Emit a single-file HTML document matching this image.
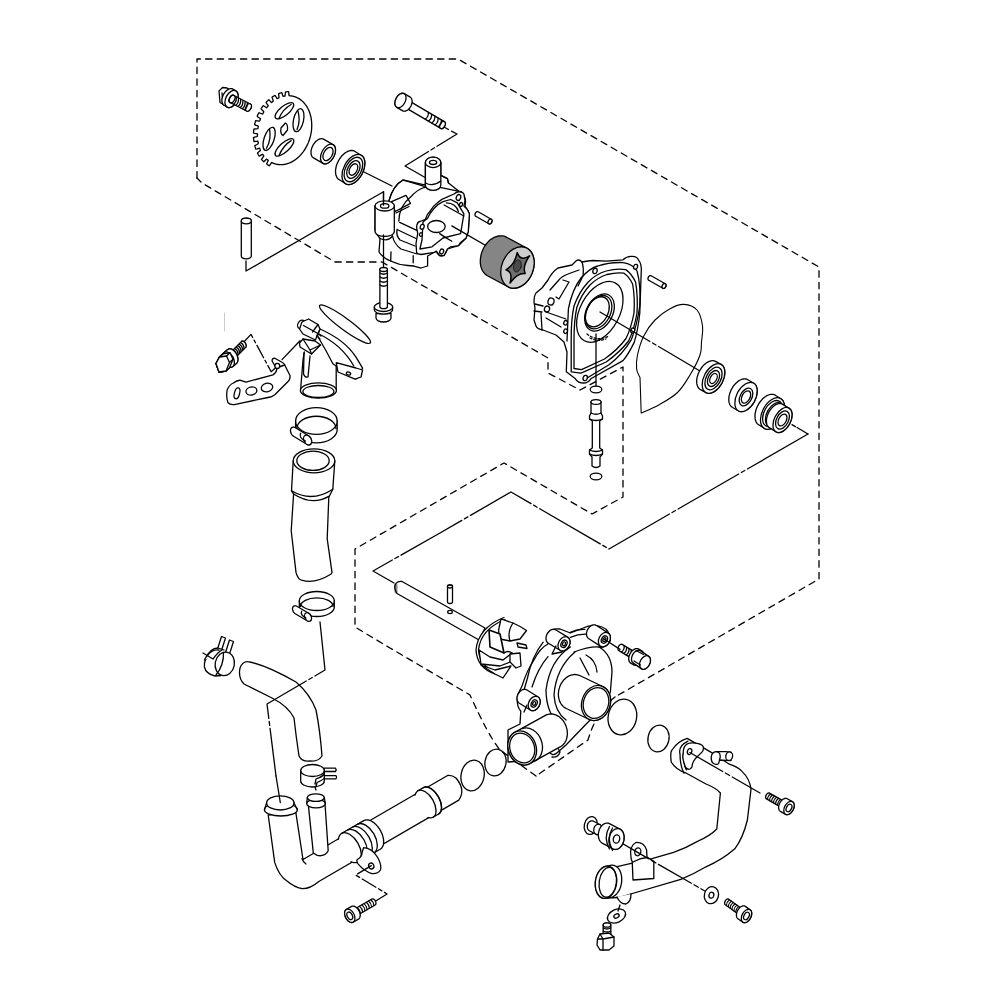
<!DOCTYPE html><html><head><meta charset="utf-8"><style>html,body{margin:0;padding:0;background:#fff;}svg{display:block;}</style></head><body><svg width="1000" height="1000" viewBox="0 0 1000 1000" stroke-linejoin="round" stroke-linecap="round">
<rect width="1000" height="1000" fill="#fff" stroke="none"/>
<path d="M197.0,178.0 L197.0,59.0 L458.0,59.0 L819.0,267.0 L819.0,579.0 L615.0,697.0" fill="none" stroke="#000" stroke-width="1.3" stroke-dasharray="6.4 5.2" />
<path d="M615,697 Q596,712 588,740 L536,776" fill="none" stroke="#000" stroke-width="1.3" stroke-dasharray="6.4 5.2" />
<path d="M536,776 L500,750 Q488,735 470,695 L390,648 L355,627 L355,549 L504,463 L592,514 L623,497 L623,367 L580,390 L548,373 L548,358 L382,262 L335,262 L202,183 L197,178" fill="none" stroke="#000" stroke-width="1.3" stroke-dasharray="6.4 5.2" />
<path d="M246.0,261.0 L246.0,271.0 L383.5,191.7 L383.5,205.2" fill="none" stroke="#000" stroke-width="1.3" />
<path d="M224.5,313 L224.5,331" stroke="#ccc" stroke-width="1" fill="none"/>
<path d="M444.0,127.0 L448.5,129.5" fill="none" stroke="#000" stroke-width="1.3" />
<path d="M451.5,131.2 L457.0,134.0 L437.0,146.3" fill="none" stroke="#000" stroke-width="1.3" />
<path d="M434.5,147.8 L431.0,150.0" fill="none" stroke="#000" stroke-width="1.3" />
<path d="M428.5,151.5 L405.0,166.0 L426.0,178.0" fill="none" stroke="#000" stroke-width="1.3" />
<path d="M362.0,171.0 L392.0,186.0" fill="none" stroke="#000" stroke-width="1.3" stroke-dasharray="70 3 4 3" />
<path d="M786.0,421.0 L796.0,427.0" fill="none" stroke="#000" stroke-width="1.3" stroke-dasharray="4 3" />
<path d="M797.0,427.5 L808.0,434.0" fill="none" stroke="#000" stroke-width="1.3" />
<path d="M808.0,434.0 L609.0,549.0 L511.0,492.0 L440.0,533.0 L373.0,571.0 L394.0,583.0" fill="none" stroke="#000" stroke-width="1.3" stroke-dasharray="70 3 4 3" />
<path d="M219.0,91.0 L222.5,87.5 L227.0,88.0 L230.0,89.8 L231.5,98.8 L228.0,106.8 L223.0,104.3 L220.0,102.5 Z" fill="#fff" stroke="#000" stroke-width="1.3" />
<path d="M222.0,92.8 L223.0,104.3" fill="none" stroke="#000" stroke-width="1.3" />
<path d="M221.9,100.4 L221.9,99.7 L222.0,98.9 L222.1,98.2 L222.3,97.5 L222.5,96.7 L222.8,96.0 L223.1,95.2 L223.5,94.5 L223.9,93.8 L224.3,93.2 L224.8,92.5 L225.2,91.9 L225.8,91.3 L226.3,90.8 L226.9,90.3 L227.4,89.9 L228.0,89.6 L228.6,89.3 L229.1,89.0 L229.7,88.8 L230.3,88.7 L230.8,88.7 L231.4,88.7 L231.9,88.7 L232.4,88.9 L232.8,89.1 L235.8,90.9 L236.2,91.1 L236.6,91.5 L237.0,91.8 L237.3,92.3 L237.5,92.8 L237.8,93.3 L237.9,93.9 L238.0,94.5 L238.1,95.2 L238.1,95.8 L238.1,96.5 L238.0,97.3 L237.9,98.0 L237.7,98.7 L237.5,99.5 L237.2,100.2 L236.9,101.0 L236.5,101.7 L236.1,102.4 L235.7,103.0 L235.2,103.7 L234.8,104.3 L234.2,104.9 L233.7,105.4 L233.1,105.9 L232.6,106.3 L232.0,106.6 L231.4,106.9 L230.9,107.2 L230.3,107.4 L229.7,107.5 L229.2,107.5 L228.6,107.5 L228.1,107.5 L227.6,107.3 L227.2,107.1 L224.2,105.3 L223.8,105.1 L223.4,104.7 L223.0,104.4 L222.7,103.9 L222.5,103.4 L222.2,102.9 L222.1,102.3 L222.0,101.7 L221.9,101.0 Z" fill="#fff" stroke="#000" stroke-width="1.3" />
<ellipse cx="231.5" cy="99.0" rx="5.7" ry="9.2" transform="rotate(28.0 231.5 99.0)" fill="#fff" stroke="#000" stroke-width="1.3" />
<path d="M229.1,100.4 L229.1,100.1 L229.2,99.8 L229.2,99.4 L229.3,99.1 L229.4,98.8 L229.5,98.5 L229.7,98.1 L229.8,97.8 L230.0,97.5 L230.2,97.2 L230.4,97.0 L230.6,96.7 L230.8,96.5 L231.0,96.2 L231.3,96.0 L231.5,95.8 L231.8,95.7 L232.0,95.5 L232.3,95.4 L232.5,95.4 L232.8,95.3 L233.0,95.3 L233.2,95.3 L233.5,95.3 L233.7,95.4 L233.9,95.5 L250.4,104.0 L250.6,104.1 L250.7,104.2 L250.9,104.4 L251.0,104.6 L251.1,104.8 L251.2,105.0 L251.3,105.3 L251.3,105.5 L251.4,105.8 L251.4,106.1 L251.4,106.4 L251.3,106.7 L251.3,107.1 L251.2,107.4 L251.1,107.7 L251.0,108.0 L250.8,108.4 L250.7,108.7 L250.5,109.0 L250.3,109.3 L250.1,109.5 L249.9,109.8 L249.7,110.0 L249.5,110.3 L249.2,110.5 L249.0,110.7 L248.7,110.8 L248.5,111.0 L248.2,111.1 L248.0,111.1 L247.7,111.2 L247.5,111.2 L247.3,111.2 L247.0,111.2 L246.8,111.1 L246.6,111.0 L230.1,102.5 L229.9,102.4 L229.8,102.3 L229.6,102.1 L229.5,101.9 L229.4,101.7 L229.3,101.5 L229.2,101.2 L229.2,101.0 L229.1,100.7 Z" fill="#fff" stroke="#000" stroke-width="1.3" />
<ellipse cx="248.5" cy="107.5" rx="2.5" ry="4.0" transform="rotate(28.0 248.5 107.5)" fill="#fff" stroke="#000" stroke-width="1.3" />
<path d="M233.6,104.2 Q236.6,101.8 236.3,97.3" fill="none" stroke="#000" stroke-width="1.3" />
<path d="M235.8,105.3 Q238.8,102.9 238.5,98.4" fill="none" stroke="#000" stroke-width="1.3" />
<path d="M238.0,106.4 Q241.0,104.0 240.7,99.5" fill="none" stroke="#000" stroke-width="1.3" />
<path d="M240.2,107.6 Q243.2,105.2 242.9,100.7" fill="none" stroke="#000" stroke-width="1.3" />
<path d="M242.4,108.7 Q245.4,106.3 245.1,101.8" fill="none" stroke="#000" stroke-width="1.3" />
<path d="M244.6,109.8 Q247.6,107.4 247.3,102.9" fill="none" stroke="#000" stroke-width="1.3" />
<ellipse cx="232.0" cy="99.0" rx="2.6" ry="4.2" transform="rotate(28.0 232.0 99.0)" fill="none" stroke="#000" stroke-width="1.3" />
<path d="M310.2,137.1 L310.1,137.4 L310.0,137.6 L310.0,137.9 L309.9,138.2 L309.8,138.5 L309.7,138.8 L309.6,139.1 L309.5,139.4 L309.4,139.7 L309.3,140.0 L309.2,140.3 L309.1,140.6 L309.0,140.8 L308.9,141.1 L308.8,141.4 L308.7,141.7 L308.6,142.0 L308.5,142.3 L308.4,142.5 L308.2,142.8 L308.1,143.1 L308.0,143.4 L307.9,143.7 L307.8,143.9 L307.6,144.2 L307.5,144.5 L307.4,144.8 L307.2,145.0 L307.1,145.3 L307.0,145.6 L306.8,145.8 L306.7,146.1 L306.6,146.4 L306.4,146.6 L306.3,146.9 L306.1,147.2 L306.0,147.4 L305.9,147.7 L305.7,148.0 L305.6,148.2 L305.4,148.5 L305.3,148.7 L305.1,149.0 L304.9,149.2 L304.8,149.5 L304.6,149.7 L304.5,150.0 L304.3,150.2 L304.1,150.5 L304.0,150.7 L303.8,150.9 L303.6,151.2 L303.5,151.4 L303.3,151.7 L303.1,151.9 L302.9,152.1 L302.8,152.4 L302.6,152.6 L302.4,152.8 L302.2,153.0 L302.1,153.3 L301.9,153.5 L301.7,153.7 L301.5,153.9 L301.3,154.1 L301.1,154.4 L300.9,154.6 L300.8,154.8 L300.6,155.0 L300.4,155.2 L300.2,155.4 L300.0,155.6 L299.8,155.8 L299.6,156.0 L299.4,156.2 L299.2,156.4 L299.0,156.6 L298.8,156.8 L298.6,157.0 L298.4,157.2 L298.2,157.4 L298.0,157.6 L297.8,157.7 L297.6,157.9 L297.4,158.1 L297.1,158.3 L296.9,158.4 L296.7,158.6 L296.5,158.8 L296.3,159.0 L296.1,159.1 L295.9,159.3 L295.6,159.4 L295.4,159.6 L295.2,159.8 L295.0,159.9 L294.8,160.1 L294.6,160.2 L294.3,160.4 L294.1,160.5 L293.9,160.6 L293.7,160.8 L293.4,160.9 L293.2,161.1 L293.0,161.2 L292.8,161.3 L292.5,161.5 L292.3,161.6 L292.1,161.7 L291.9,161.8 L291.6,161.9 L291.4,162.1 L291.2,162.2 L290.9,162.3 L290.7,162.4 L290.5,162.5 L290.3,162.6 L290.0,162.7 L289.8,162.8 L289.6,162.9 L289.3,163.0 L289.1,163.1 L288.9,163.2 L288.6,163.3 L288.4,163.4 L288.1,163.4 L287.9,163.5 L287.7,163.6 L287.4,163.7 L287.2,163.7 L287.0,163.8 L286.7,163.9 L286.5,163.9 L286.3,164.0 L286.0,164.1 L285.8,164.1 L285.6,164.2 L285.3,164.2 L285.1,164.3 L284.8,164.3 L284.6,164.4 L284.4,164.4 L284.1,164.4 L283.9,164.5 L283.7,164.5 L283.4,164.5 L283.2,164.6 L282.9,164.6 L282.7,164.6 L282.5,164.6 L282.2,164.6 L282.0,164.7 L281.8,164.7 L281.5,164.7 L281.3,164.7 L281.1,164.7 L280.8,164.7 L280.6,164.7 L280.4,164.7 L280.1,164.7 L279.9,164.7 L279.7,164.7 L279.4,164.6 L279.2,164.6 L279.0,164.6 L278.7,164.6 L278.5,164.6 L278.3,164.5 L278.0,164.5 L277.8,164.5 L277.6,164.4 L277.3,164.4 L277.1,164.4 L276.9,164.3 L276.7,164.3 L276.4,164.2 L276.2,164.2 L276.0,164.1 L275.8,164.1 L275.5,164.0 L275.3,163.9 L275.1,163.9 L274.9,163.8 L274.7,163.7 L274.4,163.7 L274.2,163.6 L274.0,163.5 L273.8,163.4 L273.6,163.4 L273.3,163.3 L273.1,163.2 L272.9,163.1 L272.7,163.0 L272.5,162.9 L272.3,162.8 L272.1,162.7 L271.9,162.6 L271.6,162.5 L271.0,163.3 L270.0,164.9 L269.3,165.8 L269.1,165.7 L268.8,165.5 L268.6,165.4 L268.4,165.3 L268.1,165.1 L267.9,165.0 L267.7,164.8 L267.5,164.7 L267.2,164.5 L267.0,164.4 L266.8,164.2 L266.7,163.8 L267.5,162.0 L268.3,160.4 L268.1,160.2 L267.9,160.1 L267.7,159.9 L267.5,159.8 L267.3,159.6 L267.2,159.5 L267.0,159.3 L266.8,159.1 L266.4,159.2 L265.1,160.5 L263.8,161.8 L263.6,161.6 L263.4,161.4 L263.2,161.2 L263.0,161.0 L262.8,160.8 L262.6,160.6 L262.4,160.4 L262.2,160.2 L262.0,160.0 L261.9,159.8 L261.7,159.5 L261.5,159.3 L262.4,158.0 L263.6,156.4 L263.8,155.8 L263.7,155.6 L263.5,155.4 L263.4,155.2 L263.2,155.0 L263.1,154.8 L262.9,154.6 L262.8,154.4 L262.6,154.2 L261.4,154.9 L259.8,155.9 L259.1,156.0 L259.0,155.8 L258.8,155.5 L258.7,155.3 L258.5,155.0 L258.4,154.8 L258.2,154.5 L258.1,154.2 L257.9,154.0 L257.8,153.7 L257.7,153.5 L257.5,153.2 L258.0,152.5 L259.6,151.2 L260.5,150.2 L260.4,150.0 L260.3,149.8 L260.2,149.5 L260.1,149.3 L260.0,149.0 L259.9,148.8 L259.8,148.5 L259.7,148.2 L259.0,148.3 L257.2,148.9 L255.8,149.2 L255.7,149.0 L255.6,148.7 L255.5,148.4 L255.4,148.1 L255.4,147.8 L255.3,147.5 L255.2,147.2 L255.1,146.9 L255.0,146.6 L254.9,146.3 L254.8,146.0 L254.8,145.6 L256.5,144.7 L258.2,143.7 L258.3,143.4 L258.3,143.1 L258.2,142.9 L258.1,142.6 L258.1,142.3 L258.0,142.0 L258.0,141.7 L257.9,141.4 L257.9,141.2 L256.1,141.3 L254.1,141.5 L253.9,141.2 L253.8,140.9 L253.8,140.6 L253.8,140.3 L253.7,139.9 L253.7,139.6 L253.7,139.3 L253.6,139.0 L253.6,138.6 L253.6,138.3 L253.6,138.0 L253.5,137.7 L254.7,137.2 L256.6,136.6 L257.5,136.2 L257.5,135.9 L257.5,135.6 L257.4,135.3 L257.4,135.0 L257.4,134.7 L257.5,134.4 L257.5,134.1 L257.5,133.8 L256.3,133.6 L254.4,133.3 L253.5,133.0 L253.5,132.7 L253.5,132.3 L253.6,132.0 L253.6,131.7 L253.6,131.3 L253.6,131.0 L253.7,130.6 L253.7,130.3 L253.7,130.0 L253.8,129.6 L253.8,129.3 L254.3,129.0 L256.3,128.9 L257.9,128.7 L257.9,128.4 L258.0,128.1 L258.0,127.8 L258.1,127.5 L258.1,127.2 L258.2,126.9 L258.3,126.6 L258.3,126.3 L258.0,125.9 L256.2,125.3 L254.6,124.6 L254.7,124.3 L254.7,124.0 L254.8,123.6 L254.9,123.3 L255.0,123.0 L255.1,122.6 L255.1,122.3 L255.2,122.0 L255.3,121.6 L255.4,121.3 L255.5,121.0 L255.6,120.7 L257.3,120.9 L259.2,121.2 L259.7,121.0 L259.8,120.7 L259.9,120.4 L260.0,120.1 L260.1,119.8 L260.2,119.6 L260.3,119.3 L260.4,119.0 L260.5,118.7 L259.2,117.8 L257.5,116.7 L257.2,116.2 L257.3,115.9 L257.5,115.6 L257.6,115.3 L257.7,115.0 L257.9,114.6 L258.0,114.3 L258.2,114.0 L258.3,113.7 L258.5,113.4 L258.6,113.1 L258.8,112.8 L259.7,113.0 L261.5,113.7 L262.6,114.0 L262.8,113.8 L262.9,113.5 L263.1,113.2 L263.2,113.0 L263.3,112.7 L263.5,112.4 L263.6,112.2 L263.8,111.9 L263.3,111.2 L261.9,109.8 L261.1,108.8 L261.2,108.5 L261.4,108.2 L261.6,107.9 L261.8,107.7 L262.0,107.4 L262.2,107.1 L262.4,106.9 L262.5,106.6 L262.7,106.3 L262.9,106.1 L263.1,105.8 L263.5,105.7 L265.1,106.8 L266.6,107.8 L266.8,107.6 L267.0,107.4 L267.1,107.1 L267.3,106.9 L267.5,106.7 L267.7,106.5 L267.9,106.3 L268.1,106.0 L268.2,105.7 L267.1,104.1 L266.1,102.4 L266.3,102.1 L266.5,101.9 L266.7,101.7 L266.9,101.4 L267.1,101.2 L267.4,101.0 L267.6,100.8 L267.8,100.6 L268.1,100.4 L268.3,100.1 L268.5,99.9 L268.8,99.7 L269.8,100.7 L271.0,102.1 L271.6,102.5 L271.8,102.3 L272.1,102.1 L272.3,102.0 L272.5,101.8 L272.7,101.6 L272.9,101.4 L273.1,101.3 L273.3,101.1 L272.9,99.8 L272.3,98.0 L272.1,97.1 L272.4,96.9 L272.6,96.8 L272.9,96.6 L273.1,96.4 L273.4,96.3 L273.6,96.1 L273.9,96.0 L274.2,95.8 L274.4,95.7 L274.7,95.5 L274.9,95.4 L275.4,95.8 L276.4,97.5 L277.1,98.7 L277.3,98.6 L277.6,98.5 L277.8,98.3 L278.0,98.2 L278.3,98.1 L278.5,98.0 L278.7,97.9 L278.9,97.8 L279.0,97.2 L278.8,95.2 L278.6,93.6 L278.9,93.5 L279.1,93.4 L279.4,93.3 L279.7,93.2 L279.9,93.1 L280.2,93.1 L280.5,93.0 L280.8,92.9 L281.0,92.8 L281.3,92.7 L281.6,92.6 L281.8,92.6 L282.4,94.3 L282.9,96.1 L283.2,96.3 L283.4,96.3 L283.6,96.2 L283.9,96.2 L284.1,96.1 L284.4,96.1 L284.6,96.0 L284.8,96.0 L285.1,96.0 L285.2,94.2 L285.4,92.2 L285.6,91.9 L285.9,91.8 L286.2,91.8 L286.5,91.8 L286.7,91.8 L287.0,91.8 L287.3,91.7 L287.5,91.7 L287.8,91.7 L288.1,91.7 L288.3,91.7 L288.6,91.7 L288.8,92.8 L288.9,94.7 L289.1,95.7 L289.3,95.7 L289.5,95.7 L289.8,95.8 L290.0,95.8 L290.2,95.8 L290.5,95.8 L290.7,95.8 L290.9,95.9 L291.2,95.9 L291.4,95.9 L291.6,96.0 L291.9,96.0 L292.1,96.0 L292.3,96.1 L292.5,96.1 L292.8,96.2 L293.0,96.2 L293.2,96.3 L293.4,96.3 L293.7,96.4 L293.9,96.5 L294.1,96.5 L294.3,96.6 L294.5,96.7 L294.8,96.7 L295.0,96.8 L295.2,96.9 L295.4,97.0 L295.6,97.0 L295.9,97.1 L296.1,97.2 L296.3,97.3 L296.5,97.4 L296.7,97.5 L296.9,97.6 L297.1,97.7 L297.3,97.8 L297.6,97.9 L297.8,98.0 L298.0,98.1 L298.2,98.2 L298.4,98.3 L298.6,98.4 L298.8,98.6 L299.0,98.7 L299.2,98.8 L299.4,98.9 L299.6,99.1 L299.8,99.2 L300.0,99.3 L300.2,99.5 L300.4,99.6 L300.6,99.7 L300.7,99.9 L300.9,100.0 L301.1,100.2 L301.3,100.3 L301.5,100.5 L301.7,100.6 L301.9,100.8 L302.0,100.9 L302.2,101.1 L302.4,101.3 L302.6,101.4 L302.8,101.6 L302.9,101.8 L303.1,101.9 L303.3,102.1 L303.5,102.3 L303.6,102.5 L303.8,102.6 L304.0,102.8 L304.1,103.0 L304.3,103.2 L304.5,103.4 L304.6,103.6 L304.8,103.8 L304.9,104.0 L305.1,104.2 L305.2,104.4 L305.4,104.6 L305.5,104.8 L305.7,105.0 L305.8,105.2 L306.0,105.4 L306.1,105.6 L306.3,105.8 L306.4,106.0 L306.6,106.2 L306.7,106.4 L306.8,106.7 L307.0,106.9 L307.1,107.1 L307.2,107.3 L307.4,107.6 L307.5,107.8 L307.6,108.0 L307.7,108.2 L307.9,108.5 L308.0,108.7 L308.1,108.9 L308.2,109.2 L308.3,109.4 L308.5,109.7 L308.6,109.9 L308.7,110.2 L308.8,110.4 L308.9,110.6 L309.0,110.9 L309.1,111.1 L309.2,111.4 L309.3,111.6 L309.4,111.9 L309.5,112.2 L309.6,112.4 L309.7,112.7 L309.8,112.9 L309.9,113.2 L309.9,113.5 L310.0,113.7 L310.1,114.0 L310.2,114.3 L310.3,114.5 L310.3,114.8 L310.4,115.1 L310.5,115.3 L310.6,115.6 L310.6,115.9 L310.7,116.2 L310.8,116.4 L310.8,116.7 L310.9,117.0 L310.9,117.3 L311.0,117.5 L311.1,117.8 L311.1,118.1 L311.2,118.4 L311.2,118.7 L311.3,119.0 L311.3,119.2 L311.3,119.5 L311.4,119.8 L311.4,120.1 L311.5,120.4 L311.5,120.7 L311.5,121.0 L311.5,121.3 L311.6,121.5 L311.6,121.8 L311.6,122.1 L311.6,122.4 L311.7,122.7 L311.7,123.0 L311.7,123.3 L311.7,123.6 L311.7,123.9 L311.7,124.2 L311.7,124.5 L311.7,124.8 L311.8,125.1 L311.8,125.4 L311.8,125.7 L311.7,126.0 L311.7,126.3 L311.7,126.6 L311.7,126.9 L311.7,127.2 L311.7,127.5 L311.7,127.8 L311.7,128.1 L311.6,128.4 L311.6,128.7 L311.6,129.0 L311.6,129.3 L311.6,129.6 L311.5,129.9 L311.5,130.2 L311.5,130.5 L311.4,130.8 L311.4,131.1 L311.3,131.4 L311.3,131.7 L311.3,132.0 L311.2,132.3 L311.2,132.6 L311.1,132.9 L311.1,133.2 L311.0,133.5 L310.9,133.8 L310.9,134.1 L310.8,134.4 L310.8,134.7 L310.7,135.0 L310.6,135.3 L310.6,135.6 L310.5,135.9 L310.4,136.2 L310.4,136.5 L310.3,136.8 Z" fill="#fff" stroke="#000" stroke-width="1.3" />
<ellipse cx="284.4" cy="110.7" rx="11.5" ry="4.6" transform="rotate(-39.6 284.4 110.7)" fill="#fff" stroke="#000" stroke-width="1.3"/>
<path d="M-9.2,2.5 Q0,-2.3 9.2,-0.5" transform="translate(284.4 110.7) rotate(-39.6)" fill="none" stroke="#000" stroke-width="1.3"/>
<ellipse cx="298.5" cy="120.2" rx="11.7" ry="5.0" transform="rotate(102.3 298.5 120.2)" fill="#fff" stroke="#000" stroke-width="1.3"/>
<path d="M-9.4,2.8 Q0,-2.5 9.4,-0.5" transform="translate(298.5 120.2) rotate(102.3)" fill="none" stroke="#000" stroke-width="1.3"/>
<ellipse cx="269.1" cy="138.9" rx="12.1" ry="5.0" transform="rotate(108.6 269.1 138.9)" fill="#fff" stroke="#000" stroke-width="1.3"/>
<path d="M-9.7,2.8 Q0,-2.5 9.7,-0.5" transform="translate(269.1 138.9) rotate(108.6)" fill="none" stroke="#000" stroke-width="1.3"/>
<ellipse cx="284.4" cy="147.4" rx="12.0" ry="4.6" transform="rotate(-42.1 284.4 147.4)" fill="#fff" stroke="#000" stroke-width="1.3"/>
<path d="M-9.6,2.5 Q0,-2.3 9.6,-0.5" transform="translate(284.4 147.4) rotate(-42.1)" fill="none" stroke="#000" stroke-width="1.3"/>
<path d="M281,128 L285.5,123 Q288,124 287.5,130 L283,135.5 Q280,134 281,128 Z" fill="#fff" stroke="#000" stroke-width="1.3" />
<path d="M311.0,152.2 L311.0,151.4 L311.1,150.6 L311.3,149.7 L311.5,148.9 L311.8,148.0 L312.1,147.2 L312.5,146.3 L312.9,145.5 L313.3,144.7 L313.8,143.9 L314.4,143.2 L314.9,142.5 L315.5,141.8 L316.1,141.2 L316.8,140.7 L317.4,140.2 L318.0,139.8 L318.7,139.4 L319.4,139.1 L320.0,138.9 L320.6,138.8 L321.3,138.7 L321.9,138.7 L322.4,138.8 L323.0,138.9 L323.5,139.1 L333.0,144.6 L333.4,144.9 L333.9,145.3 L334.3,145.7 L334.6,146.2 L334.9,146.8 L335.1,147.4 L335.3,148.0 L335.4,148.8 L335.5,149.5 L335.5,150.3 L335.5,151.1 L335.4,151.9 L335.2,152.8 L335.0,153.6 L334.7,154.5 L334.4,155.3 L334.0,156.2 L333.6,157.0 L333.2,157.8 L332.7,158.6 L332.1,159.3 L331.6,160.0 L331.0,160.7 L330.4,161.3 L329.7,161.8 L329.1,162.3 L328.5,162.7 L327.8,163.1 L327.1,163.4 L326.5,163.6 L325.9,163.7 L325.2,163.8 L324.6,163.8 L324.1,163.7 L323.5,163.6 L323.0,163.4 L313.5,157.9 L313.1,157.6 L312.6,157.2 L312.2,156.8 L311.9,156.3 L311.6,155.7 L311.4,155.1 L311.2,154.5 L311.1,153.8 L311.0,153.0 Z" fill="#fff" stroke="#000" stroke-width="1.3" />
<ellipse cx="328.0" cy="154.0" rx="6.4" ry="10.6" transform="rotate(28.0 328.0 154.0)" fill="#fff" stroke="#000" stroke-width="1.3" />
<ellipse cx="328.0" cy="154.0" rx="4.3" ry="7.2" transform="rotate(28.0 328.0 154.0)" fill="#fff" stroke="#000" stroke-width="1.3" />
<path d="M335.5,171.2 L335.6,170.0 L335.8,168.7 L336.0,167.4 L336.3,166.1 L336.7,164.8 L337.2,163.5 L337.8,162.2 L338.4,160.9 L339.1,159.7 L339.9,158.5 L340.7,157.4 L341.5,156.3 L342.4,155.3 L343.4,154.4 L344.3,153.6 L345.3,152.8 L346.3,152.2 L347.3,151.6 L348.3,151.2 L349.3,150.8 L350.3,150.6 L351.2,150.5 L352.1,150.5 L353.0,150.6 L353.8,150.9 L354.6,151.2 L361.0,155.2 L361.7,155.6 L362.4,156.2 L363.0,156.9 L363.5,157.6 L363.9,158.5 L364.3,159.4 L364.6,160.4 L364.7,161.5 L364.8,162.6 L364.9,163.8 L364.8,165.0 L364.6,166.3 L364.4,167.6 L364.1,168.9 L363.7,170.2 L363.2,171.5 L362.6,172.8 L362.0,174.1 L361.3,175.3 L360.5,176.5 L359.7,177.6 L358.9,178.7 L358.0,179.7 L357.0,180.6 L356.1,181.4 L355.1,182.2 L354.1,182.8 L353.1,183.4 L352.1,183.8 L351.1,184.2 L350.1,184.4 L349.2,184.5 L348.3,184.5 L347.4,184.4 L346.6,184.1 L345.8,183.8 L339.4,179.8 L338.7,179.4 L338.0,178.8 L337.4,178.1 L336.9,177.4 L336.5,176.5 L336.1,175.6 L335.8,174.6 L335.7,173.5 L335.6,172.4 Z" fill="#fff" stroke="#000" stroke-width="1.3" />
<ellipse cx="353.4" cy="169.5" rx="9.7" ry="16.2" transform="rotate(28.0 353.4 169.5)" fill="#fff" stroke="#000" stroke-width="1.3" />
<ellipse cx="353.4" cy="169.5" rx="7.9" ry="13.2" transform="rotate(28.0 353.4 169.5)" fill="none" stroke="#000" stroke-width="1.3" />
<ellipse cx="353.4" cy="169.5" rx="5.7" ry="9.5" transform="rotate(28.0 353.4 169.5)" fill="none" stroke="#000" stroke-width="1.3" />
<ellipse cx="353.4" cy="169.5" rx="3.7" ry="6.2" transform="rotate(28.0 353.4 169.5)" fill="#fff" stroke="#000" stroke-width="1.3" />
<path d="M403.2,104.8 L403.2,104.5 L403.2,104.2 L403.3,103.9 L403.4,103.6 L403.5,103.3 L403.6,103.0 L403.7,102.7 L403.9,102.4 L404.0,102.1 L404.2,101.8 L404.4,101.5 L404.6,101.3 L404.8,101.0 L405.1,100.8 L405.3,100.6 L405.5,100.4 L405.8,100.3 L406.0,100.1 L406.3,100.0 L406.5,100.0 L406.8,99.9 L407.0,99.9 L407.2,99.9 L407.4,99.9 L407.6,100.0 L407.8,100.1 L444.3,121.6 L444.5,121.7 L444.7,121.8 L444.8,122.0 L445.0,122.2 L445.1,122.4 L445.2,122.6 L445.2,122.8 L445.3,123.1 L445.3,123.4 L445.3,123.7 L445.3,124.0 L445.3,124.3 L445.2,124.6 L445.1,124.9 L445.0,125.2 L444.9,125.5 L444.8,125.8 L444.6,126.1 L444.5,126.4 L444.3,126.7 L444.1,127.0 L443.9,127.2 L443.7,127.5 L443.4,127.7 L443.2,127.9 L443.0,128.1 L442.7,128.2 L442.5,128.4 L442.2,128.5 L442.0,128.6 L441.7,128.6 L441.5,128.6 L441.3,128.6 L441.1,128.6 L440.9,128.5 L440.7,128.4 L404.2,106.9 L404.0,106.8 L403.8,106.7 L403.7,106.5 L403.5,106.3 L403.4,106.1 L403.3,105.9 L403.3,105.7 L403.2,105.4 L403.2,105.1 Z" fill="#fff" stroke="#000" stroke-width="1.3" />
<ellipse cx="442.5" cy="125.0" rx="2.4" ry="3.9" transform="rotate(28.0 442.5 125.0)" fill="#fff" stroke="#000" stroke-width="1.3" />
<path d="M394.9,103.2 L394.9,102.6 L395.0,102.0 L395.1,101.4 L395.2,100.7 L395.4,100.1 L395.7,99.5 L395.9,98.8 L396.2,98.2 L396.6,97.6 L396.9,97.1 L397.3,96.5 L397.7,96.0 L398.2,95.5 L398.6,95.1 L399.1,94.7 L399.6,94.3 L400.1,94.0 L400.6,93.8 L401.1,93.6 L401.5,93.4 L402.0,93.3 L402.5,93.3 L402.9,93.3 L403.4,93.3 L403.8,93.4 L404.2,93.6 L410.2,97.1 L410.5,97.3 L410.8,97.6 L411.1,97.9 L411.4,98.3 L411.6,98.7 L411.8,99.2 L411.9,99.7 L412.1,100.2 L412.1,100.7 L412.1,101.3 L412.1,101.9 L412.0,102.5 L411.9,103.1 L411.8,103.8 L411.6,104.4 L411.3,105.0 L411.1,105.7 L410.8,106.3 L410.4,106.9 L410.1,107.4 L409.7,108.0 L409.3,108.5 L408.8,109.0 L408.4,109.4 L407.9,109.8 L407.4,110.2 L406.9,110.5 L406.4,110.7 L405.9,110.9 L405.5,111.1 L405.0,111.2 L404.5,111.2 L404.1,111.2 L403.6,111.2 L403.2,111.1 L402.8,110.9 L396.8,107.4 L396.5,107.2 L396.2,106.9 L395.9,106.6 L395.6,106.2 L395.4,105.8 L395.2,105.3 L395.1,104.8 L394.9,104.3 L394.9,103.8 Z" fill="#fff" stroke="#000" stroke-width="1.3" />
<ellipse cx="400.5" cy="100.5" rx="4.8" ry="7.8" transform="rotate(28.0 400.5 100.5)" fill="#fff" stroke="#000" stroke-width="1.3" />
<path d="M425.4,119.0 Q428.6,116.8 428.4,112.4" fill="none" stroke="#000" stroke-width="1.3" />
<path d="M428.6,120.9 Q431.9,118.7 431.6,114.3" fill="none" stroke="#000" stroke-width="1.3" />
<path d="M431.9,122.8 Q435.1,120.6 434.9,116.2" fill="none" stroke="#000" stroke-width="1.3" />
<path d="M435.1,124.7 Q438.4,122.5 438.1,118.1" fill="none" stroke="#000" stroke-width="1.3" />
<path d="M438.4,126.6 Q441.6,124.4 441.4,120.0" fill="none" stroke="#000" stroke-width="1.3" />
<path d="M241.3,221.0 L241.3,256.0 A5.0,2.8 0 0 0 251.3,256.0 L251.3,221.0 A5.0,2.8 0 0 0 241.3,221.0 Z" fill="#fff" stroke="#000" stroke-width="1.3" />
<ellipse cx="246.3" cy="221.0" rx="5.0" ry="2.8" transform="rotate(0.0 246.3 221.0)" fill="#fff" stroke="#000" stroke-width="1.3" />
<path d="M375,206 L375,230.4 Q377,235 380,238.5 L379,252 Q383,258 390.7,261 Q399,265 407.8,265.5 L414,266 L421,268 L427.6,266 L427.6,256 L434.2,252.3 L436.4,251.2 Q438,256 441.5,256 Q445,256 447.4,249 L458.4,245.7 L466.1,238 L468.3,231.4 L469.4,213.8 Q468,210 465,206.1 Q466,200 465,198 Q463,192 459.5,191.8 L448.5,183 L447.4,178.6 L440.8,175.3 L440.8,162.4 L425.4,162.4 L425.4,185.2 L403,180 Q393,186 389,200.7 Q384,205 375,206 Z" fill="#fff" stroke="#000" stroke-width="1.3" />
<path d="M389,200.7 Q393,185 403,180 L424.3,186.3" fill="none" stroke="#000" stroke-width="1.3" />
<path d="M435.3,186.3 L461.7,191.8" fill="none" stroke="#000" stroke-width="1.3" />
<path d="M440.8,175.3 L447.4,178.6 L448.5,183" fill="none" stroke="#000" stroke-width="1.3" />
<path d="M391.6,201.6 L406,195.3 L410.5,203.4 L395.2,211.5 Z" fill="#fff" stroke="#000" stroke-width="1.3" />
<path d="M396,213 L409,206.5" fill="none" stroke="#000" stroke-width="1.3" />
<path d="M398.8,221 Q399,206 411.4,196.2 Q417,190 424,187.5 L433,185.4" fill="none" stroke="#000" stroke-width="1.3" />
<path d="M399.7,222.3 L416.8,230.4 M397,229.5 L416,238.5 M397,229.5 Q396,236 400,240 L415,246" fill="none" stroke="#000" stroke-width="1.3" />
<path d="M392.5,236 Q394,244 401,249 L417,254" fill="none" stroke="#000" stroke-width="1.3" />
<path d="M380,238.5 Q388,242 392.5,236" fill="none" stroke="#000" stroke-width="1.3" />
<path d="M390.7,261 L391,252 M413.2,262.8 L413.2,255.6" fill="none" stroke="#000" stroke-width="1.3" />
<path d="M454,194 Q457,191.5 459.5,191.8 Q463,192 463.9,194 L465,200.6 L463.9,206.1 L467.2,209.4 L469.4,213.8 L468.3,231.4 L466.1,238 L460.6,242.4 L458.4,245.7 L450.7,246.8 L447.4,249 L444.1,255.6 L439.7,255.6 L436.4,251.2 L434.2,252.3 L421,254.5 Q417,254 416.6,252.3 L416,243.5 L417.7,233.6 L416.6,227 Q417,222 419.9,221.5 L425.4,219.3 Q427,214 429.8,211.6 Q433,206 437.5,202.8 Q441,199 446.3,197.3 Z" fill="#fff" stroke="#000" stroke-width="1.3" />
<path d="M450.7,199.5 L443,201.7 Q438,204 434.2,208.3 Q430,213 427.6,218.2 L423,222 L422,240 L419.9,249 L432,246.8 L443,238 L460.6,233.6 L463.9,213.8 L457.3,202.8 Z" fill="none" stroke="#000" stroke-width="1.3" />
<ellipse cx="436.4" cy="226.5" rx="8.8" ry="6.0" transform="rotate(0.0 436.4 226.5)" fill="#fff" stroke="#000" stroke-width="1.3" />
<path d="M444.1,205 L463.9,216" fill="none" stroke="#000" stroke-width="1.3" />
<path d="M446.3,202.8 Q456,203 458.4,211.6" fill="none" stroke="#000" stroke-width="1.3" />
<path d="M439.7,233.6 Q446,238 451.8,241.3" fill="none" stroke="#000" stroke-width="1.3" />
<ellipse cx="458.5" cy="197.5" rx="2.2" ry="3.0" transform="rotate(20.0 458.5 197.5)" fill="#fff" stroke="#000" stroke-width="1.3" />
<ellipse cx="461.0" cy="204.5" rx="1.5" ry="2.0" transform="rotate(20.0 461.0 204.5)" fill="#fff" stroke="#000" stroke-width="1.3" />
<ellipse cx="422.2" cy="226.8" rx="1.9" ry="2.5" transform="rotate(20.0 422.2 226.8)" fill="#fff" stroke="#000" stroke-width="1.3" />
<ellipse cx="420.9" cy="234.5" rx="1.4" ry="1.8" transform="rotate(20.0 420.9 234.5)" fill="#fff" stroke="#000" stroke-width="1.3" />
<ellipse cx="441.7" cy="251.5" rx="1.9" ry="2.5" transform="rotate(20.0 441.7 251.5)" fill="#fff" stroke="#000" stroke-width="1.3" />
<path d="M425.4,162.4 L425.4,185.2 A7.7,5.2 0 0 0 440.8,185.2 L440.8,162.4 A7.7,5.2 0 0 0 425.4,162.4 Z" fill="#fff" stroke="#000" stroke-width="1.3" />
<ellipse cx="433.1" cy="162.4" rx="7.7" ry="5.2" transform="rotate(0.0 433.1 162.4)" fill="#fff" stroke="#000" stroke-width="1.3" />
<ellipse cx="433.1" cy="162.4" rx="3.6" ry="2.1" transform="rotate(0.0 433.1 162.4)" fill="#fff" stroke="#000" stroke-width="1.3" />
<path d="M425.4,183 Q433,187 440.8,181" fill="none" stroke="#000" stroke-width="1.3" />
<path d="M375.1,205.9 L375.1,232.0 A9.7,5.1 0 0 0 394.3,232.0 L394.3,205.9 A9.7,5.1 0 0 0 375.1,205.9 Z" fill="#fff" stroke="#000" stroke-width="1.3" />
<ellipse cx="384.7" cy="205.9" rx="9.7" ry="5.1" transform="rotate(0.0 384.7 205.9)" fill="#fff" stroke="#000" stroke-width="1.3" />
<ellipse cx="384.7" cy="205.9" rx="4.2" ry="2.2" transform="rotate(0.0 384.7 205.9)" fill="#fff" stroke="#000" stroke-width="1.3" />
<path d="M383.5,235.0 L383.5,267.0" fill="none" stroke="#000" stroke-width="1.3" />
<path d="M383.5,191.7 L383.5,205.2" fill="none" stroke="#000" stroke-width="1.3" />
<path d="M451.8,225.9 L497.0,252.0" fill="none" stroke="#000" stroke-width="1.3" />
<path d="M475.0,214.6 L475.0,214.4 L475.0,214.2 L475.1,214.0 L475.1,213.8 L475.2,213.6 L475.3,213.3 L475.4,213.1 L475.5,212.9 L475.6,212.8 L475.8,212.6 L475.9,212.4 L476.1,212.3 L476.2,212.1 L476.4,212.0 L476.6,211.9 L476.7,211.8 L476.9,211.7 L477.1,211.6 L477.3,211.6 L477.4,211.6 L477.6,211.6 L477.8,211.6 L477.9,211.6 L478.1,211.6 L478.2,211.7 L491.2,219.2 L491.4,219.3 L491.5,219.4 L491.6,219.5 L491.7,219.6 L491.8,219.8 L491.9,219.9 L491.9,220.1 L492.0,220.3 L492.0,220.5 L492.0,220.7 L492.0,220.9 L492.0,221.1 L492.0,221.3 L491.9,221.5 L491.9,221.7 L491.8,221.9 L491.7,222.2 L491.6,222.4 L491.5,222.6 L491.4,222.7 L491.2,222.9 L491.1,223.1 L490.9,223.2 L490.8,223.4 L490.6,223.5 L490.4,223.6 L490.3,223.7 L490.1,223.8 L489.9,223.9 L489.7,223.9 L489.6,223.9 L489.4,223.9 L489.2,223.9 L489.1,223.9 L488.9,223.9 L488.8,223.8 L475.8,216.3 L475.6,216.2 L475.5,216.1 L475.4,216.0 L475.3,215.9 L475.2,215.7 L475.1,215.6 L475.1,215.4 L475.0,215.2 L475.0,215.0 L475.0,214.8 Z" fill="#fff" stroke="#000" stroke-width="1.3" />
<ellipse cx="490.0" cy="221.5" rx="1.8" ry="2.6" transform="rotate(28.0 490.0 221.5)" fill="#fff" stroke="#000" stroke-width="1.3" />
<path d="M648.0,278.6 L648.0,278.4 L648.0,278.2 L648.1,278.0 L648.1,277.8 L648.2,277.6 L648.3,277.3 L648.4,277.1 L648.5,276.9 L648.6,276.8 L648.8,276.6 L648.9,276.4 L649.1,276.3 L649.2,276.1 L649.4,276.0 L649.6,275.9 L649.7,275.8 L649.9,275.7 L650.1,275.6 L650.3,275.6 L650.4,275.6 L650.6,275.6 L650.8,275.6 L650.9,275.6 L651.1,275.6 L651.2,275.7 L665.2,283.7 L665.4,283.8 L665.5,283.9 L665.6,284.0 L665.7,284.1 L665.8,284.3 L665.9,284.4 L665.9,284.6 L666.0,284.8 L666.0,285.0 L666.0,285.2 L666.0,285.4 L666.0,285.6 L666.0,285.8 L665.9,286.0 L665.9,286.2 L665.8,286.4 L665.7,286.7 L665.6,286.9 L665.5,287.1 L665.4,287.2 L665.2,287.4 L665.1,287.6 L664.9,287.7 L664.8,287.9 L664.6,288.0 L664.4,288.1 L664.3,288.2 L664.1,288.3 L663.9,288.4 L663.7,288.4 L663.6,288.4 L663.4,288.4 L663.2,288.4 L663.1,288.4 L662.9,288.4 L662.8,288.3 L648.8,280.3 L648.6,280.2 L648.5,280.1 L648.4,280.0 L648.3,279.9 L648.2,279.7 L648.1,279.6 L648.1,279.4 L648.0,279.2 L648.0,279.0 L648.0,278.8 Z" fill="#fff" stroke="#000" stroke-width="1.3" />
<ellipse cx="664.0" cy="286.0" rx="1.8" ry="2.6" transform="rotate(28.0 664.0 286.0)" fill="#fff" stroke="#000" stroke-width="1.3" />
<path d="M480.3,261.1 L480.4,259.3 L480.6,257.5 L480.9,255.7 L481.3,253.9 L481.9,252.1 L482.6,250.4 L483.3,248.7 L484.2,247.0 L485.2,245.5 L486.3,244.0 L487.5,242.6 L488.7,241.3 L490.0,240.1 L491.3,239.1 L492.7,238.2 L494.1,237.4 L495.6,236.8 L497.1,236.3 L498.5,236.0 L500.0,235.8 L501.4,235.8 L502.8,235.9 L504.1,236.2 L505.4,236.7 L506.6,237.3 L527.1,248.3 L528.3,249.1 L529.4,250.0 L530.3,251.0 L531.2,252.2 L532.0,253.4 L532.7,254.8 L533.2,256.3 L533.7,257.8 L534.0,259.5 L534.2,261.2 L534.2,262.9 L534.1,264.7 L533.9,266.5 L533.6,268.3 L533.2,270.1 L532.6,271.9 L531.9,273.6 L531.2,275.3 L530.3,277.0 L529.3,278.5 L528.2,280.0 L527.0,281.4 L525.8,282.7 L524.5,283.9 L523.2,284.9 L521.8,285.8 L520.4,286.6 L518.9,287.2 L517.4,287.7 L516.0,288.0 L514.5,288.2 L513.1,288.2 L511.7,288.1 L510.4,287.8 L509.1,287.3 L507.9,286.7 L487.4,275.7 L486.2,274.9 L485.1,274.0 L484.2,273.0 L483.3,271.8 L482.5,270.6 L481.8,269.2 L481.3,267.7 L480.8,266.2 L480.5,264.5 L480.3,262.8 Z" fill="#858585" stroke="#000" stroke-width="1.3" />
<ellipse cx="517.5" cy="267.5" rx="15.7" ry="21.5" transform="rotate(23.0 517.5 267.5)" fill="#cdcdcd" stroke="#000" stroke-width="1.3" />
<path d="M517.2,252.6 Q520.2,261.8 529.6,255.8 Q522.0,266.5 525.2,273.5 Q517.5,272.6 510,283 Q513.2,271.8 506,269.8 Q514.8,264.9 517.2,252.6 Z" fill="#6f6f6f" stroke="#000" stroke-width="1.5" />
<ellipse cx="517.4" cy="266.0" rx="3.8" ry="6.2" transform="rotate(15.0 517.4 266.0)" fill="#4a4a4a" stroke="#000" stroke-width="0.6" />
<path d="M576,261 Q579,258.5 582,262 L588,261 L593,260.5 L606.2,261.2 L623,259.8 Q627,256 631.4,256.3 Q637,256 638.4,259.8 Q642,264 641.2,272.4 L639.8,313 Q638,330 634.2,342.4 Q628,355 623,360.6 L590.8,378.8 Q588,383 583.8,383 Q578,383 575.4,378.8 L566.3,371.8 L567,352 L564,342 L556,335 L543,330 Q537,329 536,326 L534,320 L535,308 L534,302 Q534,296 536,293 L542,288 L548,280 Q552,272 558,268 L572,265 Z" fill="#fff" stroke="#000" stroke-width="1.3" />
<path d="M579,270 L568,274 Q562,276 558,281 L550,290" fill="none" stroke="#000" stroke-width="1.3" />
<path d="M563,280 L569,282 L559,299 L556,297" fill="none" stroke="#000" stroke-width="1.3" />
<ellipse cx="551.0" cy="301.5" rx="3.0" ry="3.6" transform="rotate(15.0 551.0 301.5)" fill="#fff" stroke="#000" stroke-width="1.3" />
<ellipse cx="547.0" cy="309.0" rx="2.6" ry="3.0" transform="rotate(15.0 547.0 309.0)" fill="#fff" stroke="#000" stroke-width="1.3" />
<path d="M535,304 L543,306 M534,311 L542,312 M546,312 L566,319 M546,318 L561,327 M541,313 L542,330" fill="none" stroke="#000" stroke-width="1.3" />
<path d="M582,262 Q584,268 583,276 L578,286" fill="none" stroke="#000" stroke-width="1.3" />
<path d="M567,341 L568.4,308.8 Q572,290 581,278 Q590,268 597.8,266 Q610,262 623,262.6 Q633,264 637,271 Q641,285 639.8,306 Q637,325 631.4,339.6 Q622,355 609,364.8 L583.8,380" fill="none" stroke="#000" stroke-width="1.3" />
<path d="M571.2,371.8 L571.2,339.6 Q571,320 574,306 Q579,292 588,282.2 Q596,274 606.2,271 Q617,268 625.8,269.6 Q632,274 635.6,282.2 Q638,296 637,313 Q634,330 628.6,341 Q620,352 606.2,362 L581,373.2 Z" fill="none" stroke="#000" stroke-width="1.3" />
<path d="M574,368.5 L574,339.6 Q574,321 576.8,307.5 Q581.5,294 590,285 Q597.5,277.5 607,274.5 Q617,272 624,273.2 Q629.5,277 632.6,284 Q635,297 634,313 Q631,328.5 626,338.5 Q618,349.5 604.5,359 L581.5,369.6 Z" fill="none" stroke="#000" stroke-width="1.3" />
<ellipse cx="599.8" cy="311.8" rx="19.7" ry="32.8" transform="rotate(28.0 599.8 311.8)" fill="#fff" stroke="#000" stroke-width="1.3" />
<ellipse cx="599.5" cy="312.5" rx="13.1" ry="19.8" transform="rotate(28.0 599.5 312.5)" fill="#fff" stroke="#000" stroke-width="1.3" />
<ellipse cx="598.6" cy="312.2" rx="11.7" ry="17.8" transform="rotate(28.0 598.6 312.2)" fill="none" stroke="#000" stroke-width="1.3" />
<ellipse cx="597.3" cy="311.8" rx="10.6" ry="16.0" transform="rotate(28.0 597.3 311.8)" fill="none" stroke="#000" stroke-width="1.3" />
<path d="M587,334 Q597,342 609,336" fill="none" stroke="#000" stroke-width="1.3" stroke-dasharray="2 2" />
<path d="M590,338 Q598,342 606,339" fill="none" stroke="#000" stroke-width="1.3" stroke-dasharray="2 2" />
<ellipse cx="595.0" cy="271.0" rx="2.1" ry="2.7" transform="rotate(20.0 595.0 271.0)" fill="#fff" stroke="#000" stroke-width="1.3" />
<ellipse cx="635.6" cy="266.8" rx="1.9" ry="2.5" transform="rotate(20.0 635.6 266.8)" fill="#fff" stroke="#000" stroke-width="1.3" />
<ellipse cx="632.8" cy="330.5" rx="1.9" ry="2.5" transform="rotate(20.0 632.8 330.5)" fill="#fff" stroke="#000" stroke-width="1.3" />
<ellipse cx="585.2" cy="378.0" rx="2.1" ry="2.7" transform="rotate(20.0 585.2 378.0)" fill="#fff" stroke="#000" stroke-width="1.3" />
<ellipse cx="565.6" cy="322.8" rx="1.8" ry="2.3" transform="rotate(20.0 565.6 322.8)" fill="#fff" stroke="#000" stroke-width="1.3" />
<ellipse cx="565.6" cy="331.2" rx="1.8" ry="2.3" transform="rotate(20.0 565.6 331.2)" fill="#fff" stroke="#000" stroke-width="1.3" />
<path d="M596.0,334.0 L596.0,386.0" fill="none" stroke="#000" stroke-width="1.3" />
<path d="M640.0,377.5 C639.4,376.1 637.0,372.8 636.6,369.0 C636.2,365.2 636.3,360.5 637.5,355.0 C638.7,349.5 640.8,341.8 643.8,336.0 C646.7,330.2 650.6,324.5 655.0,320.0 C659.4,315.5 665.2,311.4 670.0,308.8 C674.8,306.1 679.2,304.2 683.8,304.4 C688.2,304.6 693.9,306.4 697.0,310.0 C700.1,313.6 701.8,320.7 702.5,326.0 C703.2,331.3 701.9,337.2 701.5,342.0 C701.1,346.8 701.9,349.5 700.0,355.0 C698.1,360.5 693.8,368.8 690.0,375.0 C686.2,381.2 682.7,387.5 677.5,392.5 C672.3,397.5 664.8,401.6 658.8,405.0 C652.7,408.4 644.2,411.7 641.2,413.0 Z" fill="none" stroke="#000" stroke-width="1.1" />
<path d="M600.0,312.0 L700.0,371.0" fill="none" stroke="#000" stroke-width="1.3" stroke-dasharray="58 3 4 3" />
<path d="M696.7,381.1 L696.7,379.9 L696.9,378.7 L697.1,377.4 L697.5,376.1 L697.9,374.8 L698.3,373.5 L698.9,372.2 L699.5,371.0 L700.2,369.8 L701.0,368.6 L701.8,367.5 L702.6,366.4 L703.5,365.4 L704.4,364.5 L705.4,363.7 L706.3,363.0 L707.3,362.3 L708.3,361.8 L709.3,361.3 L710.3,361.0 L711.2,360.8 L712.2,360.7 L713.1,360.7 L713.9,360.8 L714.7,361.0 L715.5,361.4 L721.0,364.4 L721.7,364.8 L722.4,365.4 L722.9,366.0 L723.5,366.8 L723.9,367.6 L724.2,368.5 L724.5,369.5 L724.7,370.6 L724.8,371.7 L724.8,372.9 L724.8,374.1 L724.6,375.3 L724.4,376.6 L724.0,377.9 L723.6,379.2 L723.2,380.5 L722.6,381.8 L722.0,383.0 L721.3,384.2 L720.5,385.4 L719.7,386.5 L718.9,387.6 L718.0,388.6 L717.1,389.5 L716.1,390.3 L715.2,391.0 L714.2,391.7 L713.2,392.2 L712.2,392.7 L711.2,393.0 L710.3,393.2 L709.3,393.3 L708.4,393.3 L707.6,393.2 L706.8,393.0 L706.0,392.6 L700.5,389.6 L699.8,389.2 L699.1,388.6 L698.6,388.0 L698.0,387.2 L697.6,386.4 L697.3,385.5 L697.0,384.5 L696.8,383.4 L696.7,382.3 Z" fill="#fff" stroke="#000" stroke-width="1.3" />
<ellipse cx="713.5" cy="378.5" rx="9.6" ry="16.0" transform="rotate(28.0 713.5 378.5)" fill="#fff" stroke="#000" stroke-width="1.3" />
<ellipse cx="713.5" cy="378.5" rx="7.3" ry="12.2" transform="rotate(28.0 713.5 378.5)" fill="none" stroke="#000" stroke-width="1.3" />
<ellipse cx="713.5" cy="378.5" rx="5.2" ry="8.6" transform="rotate(28.0 713.5 378.5)" fill="none" stroke="#000" stroke-width="1.3" />
<ellipse cx="713.5" cy="378.5" rx="3.2" ry="5.4" transform="rotate(28.0 713.5 378.5)" fill="#fff" stroke="#000" stroke-width="1.3" />
<path d="M728.8,399.1 L728.9,397.9 L729.0,396.6 L729.3,395.4 L729.6,394.1 L730.0,392.8 L730.5,391.5 L731.0,390.3 L731.6,389.0 L732.3,387.9 L733.0,386.7 L733.8,385.6 L734.7,384.5 L735.5,383.6 L736.5,382.7 L737.4,381.9 L738.4,381.1 L739.3,380.5 L740.3,380.0 L741.3,379.5 L742.2,379.2 L743.2,379.0 L744.1,378.9 L745.0,378.9 L745.9,379.0 L746.7,379.2 L747.4,379.5 L753.4,383.0 L754.1,383.5 L754.8,384.0 L755.3,384.7 L755.8,385.4 L756.3,386.2 L756.6,387.1 L756.9,388.1 L757.1,389.2 L757.2,390.3 L757.2,391.4 L757.1,392.6 L757.0,393.9 L756.7,395.1 L756.4,396.4 L756.0,397.7 L755.5,399.0 L755.0,400.2 L754.4,401.5 L753.7,402.6 L753.0,403.8 L752.2,404.9 L751.3,406.0 L750.5,406.9 L749.5,407.8 L748.6,408.6 L747.6,409.4 L746.7,410.0 L745.7,410.5 L744.7,411.0 L743.8,411.3 L742.8,411.5 L741.9,411.6 L741.0,411.6 L740.1,411.5 L739.3,411.3 L738.6,411.0 L732.6,407.5 L731.9,407.0 L731.2,406.5 L730.7,405.8 L730.2,405.1 L729.7,404.3 L729.4,403.4 L729.1,402.4 L728.9,401.3 L728.8,400.2 Z" fill="#fff" stroke="#000" stroke-width="1.3" />
<ellipse cx="746.0" cy="397.0" rx="9.5" ry="15.8" transform="rotate(28.0 746.0 397.0)" fill="#fff" stroke="#000" stroke-width="1.3" />
<ellipse cx="746.0" cy="397.0" rx="5.8" ry="9.6" transform="rotate(28.0 746.0 397.0)" fill="#fff" stroke="#000" stroke-width="1.3" />
<ellipse cx="746.0" cy="397.0" rx="4.0" ry="6.6" transform="rotate(28.0 746.0 397.0)" fill="none" stroke="#000" stroke-width="1.3" />
<path d="M755.0,416.0 L755.0,414.7 L755.2,413.4 L755.5,412.0 L755.8,410.6 L756.2,409.3 L756.7,407.9 L757.3,406.5 L758.0,405.2 L758.7,403.9 L759.5,402.7 L760.4,401.5 L761.3,400.4 L762.2,399.3 L763.2,398.3 L764.2,397.5 L765.2,396.7 L766.3,396.0 L767.3,395.4 L768.4,395.0 L769.4,394.6 L770.4,394.4 L771.4,394.3 L772.4,394.3 L773.3,394.4 L774.2,394.6 L775.0,395.0 L775.7,395.5 L781.2,399.0 L781.9,399.5 L782.5,400.2 L783.1,401.0 L783.5,401.9 L783.9,402.9 L784.2,404.0 L784.4,405.1 L784.5,406.3 L784.5,407.5 L784.5,408.8 L784.3,410.1 L784.0,411.5 L783.7,412.9 L783.3,414.2 L782.8,415.6 L782.2,417.0 L781.5,418.3 L780.8,419.6 L780.0,420.8 L779.1,422.0 L778.2,423.1 L777.3,424.2 L776.3,425.2 L775.3,426.0 L774.3,426.8 L773.2,427.5 L772.2,428.1 L771.1,428.5 L770.1,428.9 L769.1,429.1 L768.1,429.2 L767.1,429.2 L766.2,429.1 L765.3,428.9 L764.5,428.5 L763.8,428.0 L758.3,424.5 L757.6,424.0 L757.0,423.3 L756.4,422.5 L756.0,421.6 L755.6,420.6 L755.3,419.5 L755.1,418.4 L755.0,417.2 Z" fill="#fff" stroke="#000" stroke-width="1.3" />
<ellipse cx="772.5" cy="413.5" rx="10.2" ry="17.0" transform="rotate(28.0 772.5 413.5)" fill="#fff" stroke="#000" stroke-width="1.3" />
<ellipse cx="772.5" cy="413.5" rx="8.4" ry="14.0" transform="rotate(28.0 772.5 413.5)" fill="none" stroke="#000" stroke-width="1.3" />
<ellipse cx="774.5" cy="414.5" rx="7.7" ry="12.8" transform="rotate(28.0 774.5 414.5)" fill="none" stroke="#000" stroke-width="1.3" />
<path d="M766.4,420.7 L766.5,419.7 L766.6,418.7 L766.8,417.6 L767.1,416.5 L767.5,415.4 L767.9,414.3 L768.3,413.3 L768.8,412.2 L769.4,411.2 L770.1,410.2 L770.7,409.2 L771.4,408.4 L772.2,407.5 L773.0,406.7 L773.8,406.0 L774.6,405.4 L775.4,404.9 L776.3,404.4 L777.1,404.1 L777.9,403.8 L778.7,403.6 L779.5,403.5 L780.3,403.5 L781.0,403.6 L781.7,403.8 L782.3,404.1 L788.8,408.1 L789.4,408.5 L790.0,408.9 L790.5,409.5 L790.9,410.1 L791.3,410.8 L791.6,411.6 L791.8,412.4 L792.0,413.3 L792.0,414.3 L792.1,415.3 L792.0,416.3 L791.9,417.3 L791.7,418.4 L791.4,419.5 L791.0,420.6 L790.6,421.7 L790.2,422.7 L789.7,423.8 L789.1,424.8 L788.4,425.8 L787.8,426.8 L787.1,427.6 L786.3,428.5 L785.5,429.3 L784.7,430.0 L783.9,430.6 L783.1,431.1 L782.2,431.6 L781.4,431.9 L780.6,432.2 L779.8,432.4 L779.0,432.5 L778.2,432.5 L777.5,432.4 L776.8,432.2 L776.2,431.9 L769.7,427.9 L769.1,427.5 L768.5,427.1 L768.0,426.5 L767.6,425.9 L767.2,425.2 L766.9,424.4 L766.7,423.6 L766.5,422.7 L766.5,421.7 Z" fill="#fff" stroke="#000" stroke-width="1.3" />
<ellipse cx="782.5" cy="420.0" rx="8.1" ry="13.5" transform="rotate(28.0 782.5 420.0)" fill="#fff" stroke="#000" stroke-width="1.3" />
<ellipse cx="782.5" cy="420.0" rx="5.9" ry="9.8" transform="rotate(28.0 782.5 420.0)" fill="#fff" stroke="#000" stroke-width="1.3" />
<ellipse cx="782.5" cy="420.0" rx="3.8" ry="6.4" transform="rotate(28.0 782.5 420.0)" fill="none" stroke="#000" stroke-width="1.3" />
<ellipse cx="596.0" cy="389.5" rx="5.8" ry="3.3" transform="rotate(0.0 596.0 389.5)" fill="none" stroke="#000" stroke-width="1.3" />
<path d="M591,402 L591,413 L589.5,416 L589.5,419 L592.3,421 L592.3,448 L589.5,450 L589.5,454 L592,457 L592,466 Q596,469 600,466 L600,457 L602.5,454 L602.5,450 L599.7,448 L599.7,421 L602.5,419 L602.5,416 L601,413 L601,402 Z" fill="#fff" stroke="#000" stroke-width="1.3" />
<ellipse cx="596.0" cy="402.0" rx="5.0" ry="2.4" transform="rotate(0.0 596.0 402.0)" fill="#fff" stroke="#000" stroke-width="1.3" />
<path d="M591,413 Q596,415.5 601,413 M589.5,419 Q596,422 602.5,419 M589.5,450 Q596,453 602.5,450 M589.5,454 Q596,457 602.5,454" fill="none" stroke="#000" stroke-width="1.3" />
<ellipse cx="596.0" cy="476.5" rx="5.8" ry="3.3" transform="rotate(0.0 596.0 476.5)" fill="none" stroke="#000" stroke-width="1.3" />
<path d="M376,313.5 L376,318 A7.5,4 0 0 0 391,318 L391,313.5 Z" fill="#fff" stroke="#000" stroke-width="1.3" />
<path d="M374.3,307 L374.3,310 A9.2,4.5 0 0 0 392.6,310 L392.6,307 Z" fill="#fff" stroke="#000" stroke-width="1.3" />
<ellipse cx="383.5" cy="307.0" rx="9.2" ry="4.5" transform="rotate(0.0 383.5 307.0)" fill="#fff" stroke="#000" stroke-width="1.3" />
<path d="M379.9,269.5 L379.9,307.0 A3.8,2.0 0 0 0 387.4,307.0 L387.4,269.5 A3.8,2.0 0 0 0 379.9,269.5 Z" fill="#fff" stroke="#000" stroke-width="1.3" />
<ellipse cx="383.6" cy="269.5" rx="3.8" ry="2.0" transform="rotate(0.0 383.6 269.5)" fill="#fff" stroke="#000" stroke-width="1.3" />
<path d="M379.9,273 Q383.6,275.5 387.4,273" fill="none" stroke="#000" stroke-width="1.3" />
<path d="M379.9,277 Q383.6,279.5 387.4,277" fill="none" stroke="#000" stroke-width="1.3" />
<path d="M379.9,281 Q383.6,283.5 387.4,281" fill="none" stroke="#000" stroke-width="1.3" />
<path d="M379.9,285 Q383.6,287.5 387.4,285" fill="none" stroke="#000" stroke-width="1.3" />
<ellipse cx="345" cy="324.2" rx="31.5" ry="5.6" transform="rotate(36.5 345 324.2)" fill="#fff" stroke="#000" stroke-width="1.3"/>
<path d="M300.5,391 L303,360 L304.3,355 L336.2,366 L336.2,391 A18,7.7 0 0 1 300.5,391 Z" fill="#fff" stroke="#000" stroke-width="0" />
<path d="M300.5,391 L303,360 L304.3,352 M336.2,366 L336.2,391" fill="none" stroke="#000" stroke-width="1.3" />
<ellipse cx="318.4" cy="390.5" rx="18.0" ry="7.7" transform="rotate(0.0 318.4 390.5)" fill="#fff" stroke="#000" stroke-width="1.3" />
<ellipse cx="318.4" cy="391.5" rx="15.5" ry="6.0" transform="rotate(0.0 318.4 391.5)" fill="none" stroke="#000" stroke-width="1.3" />
<path d="M320,329 Q345,340 356,357.2 L362.6,368.2 L356,379 L336.2,366 L332.9,363.8 Q326,350 317.5,336 Z" fill="#fff" stroke="#000" stroke-width="1.3" />
<path d="M318,333.5 Q342,345 353.8,366" fill="none" stroke="#000" stroke-width="1.3" />
<ellipse cx="301.5" cy="324.5" rx="3.6" ry="4.6" transform="rotate(30.0 301.5 324.5)" fill="#fff" stroke="#000" stroke-width="1.3" />
<path d="M302,322 L308.5,319 L318,324.5 L320,329 L317.5,334 L315.5,340 L303,334 L299.5,329 Z" fill="#fff" stroke="#000" stroke-width="1.3" />
<path d="M303.5,325.5 L317,333 M318,324.5 L312.5,332" fill="none" stroke="#000" stroke-width="1.3" />
<path d="M299.5,343 L303,339 L315,341 L320.5,345 L311.5,354 L300,347 Z" fill="#fff" stroke="#000" stroke-width="1.3" />
<path d="M303,339 L310,350 L320.5,345 M310,350 L311.5,354" fill="none" stroke="#000" stroke-width="1.3" />
<path d="M318,333.5 L321,336 M317,336 L320,339" fill="none" stroke="#000" stroke-width="1.3" />
<path d="M304,353 L303.5,374 Q305,378 308,377 L310,356" fill="none" stroke="#000" stroke-width="1.3" />
<path d="M336.2,362.7 L356,368 L362.6,370 L361,377 L355,379.2 L338,372 Z" fill="#fff" stroke="#000" stroke-width="1.3" />
<ellipse cx="348.5" cy="373.5" rx="2.2" ry="1.5" transform="rotate(20.0 348.5 373.5)" fill="none" stroke="#000" stroke-width="1.3" />
<path d="M282.0,359.6 L300.0,340.7" fill="none" stroke="#000" stroke-width="1.3" />
<path d="M228,402.8 Q226,398 227.1,390 Q229,385 233.4,383 Q237,380 240.6,380.3 L246,382.1 L273,374.9 Q277,372 276.6,369 L272.1,361 Q272,358 274.8,358.3 L282,362.3 Q285,364 284.7,365 L290.1,375.8 Q290,380 288.3,381.2 L274.8,394.7 Q272,397 268,397.5 L234.3,404.6 Q230,405 228,402.8 Z" fill="#fff" stroke="#000" stroke-width="1.3" />
<path d="M276.6,369 Q280,366 284.7,365" fill="none" stroke="#000" stroke-width="1.3" />
<ellipse cx="237.0" cy="393.3" rx="2.6" ry="5.6" transform="rotate(15.0 237.0 393.3)" fill="#fff" stroke="#000" stroke-width="1.3" />
<ellipse cx="251.4" cy="391.0" rx="5.5" ry="4.0" transform="rotate(-15.0 251.4 391.0)" fill="#fff" stroke="#000" stroke-width="1.3" />
<ellipse cx="267.0" cy="387.5" rx="5.8" ry="4.2" transform="rotate(-15.0 267.0 387.5)" fill="#fff" stroke="#000" stroke-width="1.3" />
<ellipse cx="277.3" cy="365.9" rx="2.4" ry="2.5" transform="rotate(0.0 277.3 365.9)" fill="#fff" stroke="#000" stroke-width="1.3" />
<path d="M243.8,342.0 L251.0,334.4 L271.2,371.8 L274.8,368.6" fill="none" stroke="#000" stroke-width="1.3" stroke-dasharray="14 3 3 3" />
<path d="M228.4,355.8 L228.4,355.5 L228.4,355.2 L228.5,355.0 L228.6,354.8 L228.6,354.6 L228.7,354.4 L228.9,354.2 L229.0,354.1 L241.5,341.6 L241.6,341.4 L241.8,341.3 L242.0,341.2 L242.2,341.2 L242.4,341.2 L242.6,341.2 L242.8,341.2 L243.0,341.2 L243.2,341.3 L243.5,341.4 L243.7,341.5 L243.9,341.7 L244.1,341.8 L244.4,342.0 L244.6,342.2 L244.8,342.4 L245.0,342.7 L245.1,342.9 L245.3,343.2 L245.5,343.5 L245.6,343.7 L245.7,344.0 L245.8,344.3 L245.9,344.6 L246.0,344.9 L246.1,345.2 L246.1,345.5 L246.1,345.7 L246.1,346.0 L246.1,346.3 L246.0,346.5 L245.9,346.7 L245.9,346.9 L245.8,347.1 L245.6,347.3 L245.5,347.4 L233.0,359.9 L232.9,360.1 L232.7,360.2 L232.5,360.3 L232.3,360.3 L232.1,360.3 L231.9,360.3 L231.7,360.3 L231.5,360.3 L231.3,360.2 L231.0,360.1 L230.8,360.0 L230.6,359.8 L230.4,359.7 L230.1,359.5 L229.9,359.3 L229.7,359.1 L229.5,358.8 L229.4,358.6 L229.2,358.3 L229.0,358.0 L228.9,357.8 L228.8,357.5 L228.7,357.2 L228.6,356.9 L228.5,356.6 L228.4,356.3 L228.4,356.0 Z" fill="#fff" stroke="#000" stroke-width="1.3" />
<path d="M231.9,351.9 Q235.1,353.5 235.0,357.7" fill="none" stroke="#000" stroke-width="1.3" />
<path d="M233.4,350.4 Q236.6,352.0 236.5,356.2" fill="none" stroke="#000" stroke-width="1.3" />
<path d="M234.9,348.9 Q238.1,350.5 238.0,354.7" fill="none" stroke="#000" stroke-width="1.3" />
<path d="M236.4,347.4 Q239.6,349.0 239.5,353.2" fill="none" stroke="#000" stroke-width="1.3" />
<path d="M237.9,345.9 Q241.1,347.5 241.0,351.7" fill="none" stroke="#000" stroke-width="1.3" />
<path d="M239.4,344.4 Q242.6,346.0 242.5,350.2" fill="none" stroke="#000" stroke-width="1.3" />
<path d="M240.9,342.9 Q244.1,344.5 244.0,348.7" fill="none" stroke="#000" stroke-width="1.3" />
<path d="M222.6,356.7 L222.6,356.1 L222.7,355.5 L222.8,354.9 L222.9,354.4 L223.1,353.9 L223.3,353.5 L223.6,353.1 L223.9,352.8 L227.4,349.8 L227.8,349.5 L228.2,349.3 L228.6,349.1 L229.0,349.0 L229.4,348.9 L229.9,348.9 L230.4,348.9 L230.9,349.0 L231.4,349.2 L231.9,349.4 L232.5,349.7 L233.0,350.0 L233.5,350.4 L234.0,350.8 L234.4,351.3 L234.9,351.8 L235.3,352.3 L235.8,352.9 L236.1,353.5 L236.5,354.1 L236.8,354.8 L237.1,355.4 L237.3,356.1 L237.5,356.7 L237.7,357.4 L237.8,358.1 L237.9,358.7 L237.9,359.3 L237.9,359.9 L237.8,360.5 L237.7,361.1 L237.6,361.6 L237.4,362.1 L237.2,362.5 L236.9,362.9 L236.6,363.2 L233.1,366.2 L232.7,366.5 L232.3,366.7 L231.9,366.9 L231.5,367.0 L231.1,367.1 L230.6,367.1 L230.1,367.1 L229.6,367.0 L229.1,366.8 L228.6,366.6 L228.0,366.3 L227.5,366.0 L227.0,365.6 L226.5,365.2 L226.1,364.7 L225.6,364.2 L225.2,363.7 L224.7,363.1 L224.4,362.5 L224.0,361.9 L223.7,361.2 L223.4,360.6 L223.2,359.9 L223.0,359.3 L222.8,358.6 L222.7,357.9 L222.6,357.3 Z" fill="#fff" stroke="#000" stroke-width="1.3" />
<ellipse cx="228.5" cy="359.5" rx="5.1" ry="8.2" transform="rotate(-28.0 228.5 359.5)" fill="#fff" stroke="#000" stroke-width="1.3" />
<path d="M216.0,363.5 L219.5,357.0 L223.0,353.8 L230.0,352.8 L233.0,359.3 L229.5,367.8 L226.0,371.0 L219.0,372.0 Z" fill="#fff" stroke="#000" stroke-width="1.3" />
<path d="M216.0,363.5 L219.5,357.0 L226.5,356.0 L229.5,362.5 L226.0,371.0 L219.0,372.0 Z" fill="#fff" stroke="#000" stroke-width="1.3" />
<path d="M219.5,357.0 L223.0,353.8 M226.5,356.0 L230.0,352.8 M229.5,362.5 L233.0,359.3" fill="none" stroke="#000" stroke-width="1.3" />
<path d="M228.4,355.8 L228.4,355.5 L228.4,355.2 L228.5,355.0 L228.6,354.8 L228.6,354.6 L228.7,354.4 L228.9,354.2 L229.0,354.1 L241.5,341.6 L241.6,341.4 L241.8,341.3 L242.0,341.2 L242.2,341.2 L242.4,341.2 L242.6,341.2 L242.8,341.2 L243.0,341.2 L243.2,341.3 L243.5,341.4 L243.7,341.5 L243.9,341.7 L244.1,341.8 L244.4,342.0 L244.6,342.2 L244.8,342.4 L245.0,342.7 L245.1,342.9 L245.3,343.2 L245.5,343.5 L245.6,343.7 L245.7,344.0 L245.8,344.3 L245.9,344.6 L246.0,344.9 L246.1,345.2 L246.1,345.5 L246.1,345.7 L246.1,346.0 L246.1,346.3 L246.0,346.5 L245.9,346.7 L245.9,346.9 L245.8,347.1 L245.6,347.3 L245.5,347.4 L233.0,359.9 L232.9,360.1 L232.7,360.2 L232.5,360.3 L232.3,360.3 L232.1,360.3 L231.9,360.3 L231.7,360.3 L231.5,360.3 L231.3,360.2 L231.0,360.1 L230.8,360.0 L230.6,359.8 L230.4,359.7 L230.1,359.5 L229.9,359.3 L229.7,359.1 L229.5,358.8 L229.4,358.6 L229.2,358.3 L229.0,358.0 L228.9,357.8 L228.8,357.5 L228.7,357.2 L228.6,356.9 L228.5,356.6 L228.4,356.3 L228.4,356.0 Z" fill="#fff" stroke="#000" stroke-width="1.3" />
<path d="M231.9,351.9 Q235.1,353.5 235.0,357.7" fill="none" stroke="#000" stroke-width="1.3" />
<path d="M233.4,350.4 Q236.6,352.0 236.5,356.2" fill="none" stroke="#000" stroke-width="1.3" />
<path d="M234.9,348.9 Q238.1,350.5 238.0,354.7" fill="none" stroke="#000" stroke-width="1.3" />
<path d="M236.4,347.4 Q239.6,349.0 239.5,353.2" fill="none" stroke="#000" stroke-width="1.3" />
<path d="M237.9,345.9 Q241.1,347.5 241.0,351.7" fill="none" stroke="#000" stroke-width="1.3" />
<path d="M239.4,344.4 Q242.6,346.0 242.5,350.2" fill="none" stroke="#000" stroke-width="1.3" />
<path d="M240.9,342.9 Q244.1,344.5 244.0,348.7" fill="none" stroke="#000" stroke-width="1.3" />
<path d="M222.6,356.7 L222.6,356.1 L222.7,355.5 L222.8,354.9 L222.9,354.4 L223.1,353.9 L223.3,353.5 L223.6,353.1 L223.9,352.8 L227.4,349.8 L227.8,349.5 L228.2,349.3 L228.6,349.1 L229.0,349.0 L229.4,348.9 L229.9,348.9 L230.4,348.9 L230.9,349.0 L231.4,349.2 L231.9,349.4 L232.5,349.7 L233.0,350.0 L233.5,350.4 L234.0,350.8 L234.4,351.3 L234.9,351.8 L235.3,352.3 L235.8,352.9 L236.1,353.5 L236.5,354.1 L236.8,354.8 L237.1,355.4 L237.3,356.1 L237.5,356.7 L237.7,357.4 L237.8,358.1 L237.9,358.7 L237.9,359.3 L237.9,359.9 L237.8,360.5 L237.7,361.1 L237.6,361.6 L237.4,362.1 L237.2,362.5 L236.9,362.9 L236.6,363.2 L233.1,366.2 L232.7,366.5 L232.3,366.7 L231.9,366.9 L231.5,367.0 L231.1,367.1 L230.6,367.1 L230.1,367.1 L229.6,367.0 L229.1,366.8 L228.6,366.6 L228.0,366.3 L227.5,366.0 L227.0,365.6 L226.5,365.2 L226.1,364.7 L225.6,364.2 L225.2,363.7 L224.7,363.1 L224.4,362.5 L224.0,361.9 L223.7,361.2 L223.4,360.6 L223.2,359.9 L223.0,359.3 L222.8,358.6 L222.7,357.9 L222.6,357.3 Z" fill="#fff" stroke="#000" stroke-width="1.3" />
<ellipse cx="228.5" cy="359.5" rx="5.1" ry="8.2" transform="rotate(-28.0 228.5 359.5)" fill="#fff" stroke="#000" stroke-width="1.3" />
<path d="M216.0,363.5 L219.5,357.0 L223.0,353.8 L230.0,352.8 L233.0,359.3 L229.5,367.8 L226.0,371.0 L219.0,372.0 Z" fill="#fff" stroke="#000" stroke-width="1.3" />
<path d="M216.0,363.5 L219.5,357.0 L226.5,356.0 L229.5,362.5 L226.0,371.0 L219.0,372.0 Z" fill="#fff" stroke="#000" stroke-width="1.3" />
<path d="M219.5,357.0 L223.0,353.8 M226.5,356.0 L230.0,352.8 M229.5,362.5 L233.0,359.3" fill="none" stroke="#000" stroke-width="1.3" />
<path d="M295.59999999999997,421 L295.59999999999997,429.5 A20.8,13.4 0 0 0 337.2,429.5 L337.2,421 A20.8,13.4 0 0 1 295.59999999999997,421 Z" fill="#fff" stroke="#000" stroke-width="1.3" />
<path d="M295.59999999999997,421 A20.8,13.4 0 0 1 337.2,421" fill="none" stroke="#000" stroke-width="1.3" />
<path d="M296.79999999999995,428.65 A19.6,12.4 0 0 1 336.0,428.65" fill="none" stroke="#000" stroke-width="1.3" />
<path d="M290.5,430.8 L290.5,430.4 L290.5,430.0 L290.6,429.6 L290.7,429.2 L290.8,428.9 L290.9,428.6 L291.1,428.3 L291.3,428.0 L291.5,427.8 L291.8,427.6 L292.1,427.4 L292.3,427.3 L292.7,427.2 L293.0,427.1 L293.3,427.1 L293.6,427.1 L294.0,427.2 L294.3,427.3 L294.7,427.4 L295.0,427.5 L295.4,427.7 L308.5,435.7 L308.8,436.0 L309.2,436.2 L309.5,436.5 L309.8,436.8 L310.1,437.2 L310.3,437.5 L310.6,437.9 L310.8,438.3 L311.0,438.7 L311.2,439.1 L311.3,439.5 L311.5,440.0 L311.5,440.4 L311.6,440.8 L311.6,441.2 L311.6,441.6 L311.6,442.0 L311.5,442.4 L311.4,442.8 L311.3,443.1 L311.2,443.4 L311.0,443.7 L310.8,444.0 L310.6,444.2 L310.3,444.4 L310.0,444.6 L309.8,444.7 L309.4,444.8 L309.1,444.9 L308.8,444.9 L308.5,444.9 L308.1,444.8 L307.8,444.7 L307.4,444.6 L307.1,444.5 L306.7,444.3 L293.6,436.3 L293.3,436.0 L292.9,435.8 L292.6,435.5 L292.3,435.2 L292.0,434.8 L291.8,434.5 L291.5,434.1 L291.3,433.7 L291.1,433.3 L290.9,432.9 L290.8,432.5 L290.6,432.0 L290.6,431.6 L290.5,431.2 Z" fill="#fff" stroke="#000" stroke-width="1.3" />
<ellipse cx="307.6" cy="440.0" rx="3.6" ry="5.2" transform="rotate(-28.0 307.6 440.0)" fill="#fff" stroke="#000" stroke-width="1.3" />
<path d="M300.7,433.3 Q298.3,437.3 305.4,441.1" fill="none" stroke="#000" stroke-width="1.3" />
<path d="M293.2,461 L291.5,490.8 Q292,492 293.6,494 L291.2,530.8 L296,572.4 Q298,580 302.4,580.4 Q315,584 331.2,574 L332,572.4 L327.2,538.8 L328.8,497.2 L332.8,489.2 L334.8,461 Z" fill="#fff" stroke="#000" stroke-width="1.3" />
<ellipse cx="314.0" cy="460.8" rx="20.8" ry="12.0" transform="rotate(0.0 314.0 460.8)" fill="#fff" stroke="#000" stroke-width="1.3" />
<ellipse cx="313.0" cy="460.8" rx="16.2" ry="9.6" transform="rotate(0.0 313.0 460.8)" fill="none" stroke="#000" stroke-width="1.3" />
<path d="M291.5,490.8 Q312,503 332.8,489.2" fill="none" stroke="#000" stroke-width="1.3" />
<path d="M293.6,494 Q312,506 328.8,496.4" fill="none" stroke="#000" stroke-width="1.3" />
<path d="M299.3,601 L299.3,607 A17.5,9.5 0 0 0 334.3,607 L334.3,601 A17.5,9.5 0 0 1 299.3,601 Z" fill="#fff" stroke="#000" stroke-width="1.3" />
<path d="M299.3,601 A17.5,9.5 0 0 1 334.3,601" fill="none" stroke="#000" stroke-width="1.3" />
<path d="M300.5,606.4 A16.3,8.5 0 0 1 333.1,606.4" fill="none" stroke="#000" stroke-width="1.3" />
<path d="M292.5,608.9 L292.5,608.6 L292.5,608.2 L292.6,607.9 L292.7,607.6 L292.8,607.3 L292.9,607.0 L293.1,606.8 L293.2,606.5 L293.4,606.3 L293.7,606.2 L293.9,606.0 L294.1,605.9 L294.4,605.8 L294.7,605.8 L295.0,605.8 L295.3,605.8 L295.6,605.8 L295.9,605.9 L296.2,606.0 L296.5,606.1 L296.8,606.3 L308.8,613.3 L309.1,613.5 L309.4,613.7 L309.6,614.0 L309.9,614.3 L310.1,614.5 L310.4,614.9 L310.6,615.2 L310.8,615.5 L311.0,615.9 L311.1,616.2 L311.2,616.6 L311.3,617.0 L311.4,617.3 L311.5,617.7 L311.5,618.1 L311.5,618.4 L311.5,618.8 L311.4,619.1 L311.3,619.4 L311.2,619.7 L311.1,620.0 L310.9,620.2 L310.8,620.5 L310.6,620.7 L310.3,620.8 L310.1,621.0 L309.9,621.1 L309.6,621.2 L309.3,621.2 L309.0,621.2 L308.7,621.2 L308.4,621.2 L308.1,621.1 L307.8,621.0 L307.5,620.9 L307.2,620.7 L295.2,613.7 L294.9,613.5 L294.6,613.3 L294.4,613.0 L294.1,612.7 L293.9,612.5 L293.6,612.1 L293.4,611.8 L293.2,611.5 L293.0,611.1 L292.9,610.8 L292.8,610.4 L292.7,610.0 L292.6,609.7 L292.5,609.3 Z" fill="#fff" stroke="#000" stroke-width="1.3" />
<ellipse cx="308.0" cy="617.0" rx="3.1" ry="4.5" transform="rotate(-28.0 308.0 617.0)" fill="#fff" stroke="#000" stroke-width="1.3" />
<path d="M301.8,611.2 Q299.8,614.6 305.8,617.9" fill="none" stroke="#000" stroke-width="1.3" />
<path d="M221.5,636.5 L225.5,638 L221.5,650.5 L217.5,649 Z" fill="#fff" stroke="#000" stroke-width="1.3" />
<path d="M229.5,640 L233.5,641.5 L229.5,654 L225.5,652.5 Z" fill="#fff" stroke="#000" stroke-width="1.3" />
<path d="M212,652 Q203,660 204.4,667 Q206,674 215,676 L221,675.5" fill="#fff" stroke="#000" stroke-width="1.3" />
<path d="M204.4,660 Q210,648 218,648 L224,650" fill="#fff" stroke="#000" stroke-width="1.3"/>
<ellipse cx="224.8" cy="663.9" rx="9.6" ry="11.8" transform="rotate(12.0 224.8 663.9)" fill="#fff" stroke="#000" stroke-width="1.3" />
<path d="M223.5,652.5 Q224,665 216,675" fill="none" stroke="#000" stroke-width="1.3" />
<path d="M203,653 L213,659 Q218,652 222,650 M207,656 Q212,649 219,650" fill="none" stroke="#000" stroke-width="1.3" />
<path d="M250,662 Q268,666 296,682 Q310,694 316,710 Q320,730 322,756 Q318,762 310,761 Q302,762 299,756 Q296,736 294,718 Q288,706 272,698 Q256,690 244,684 Q238,678 240,668 Q243,660 250,662 Z" fill="#fff" stroke="#000" stroke-width="1.3" />
<path d="M320.0,622.0 L325.0,670.0 L267.0,704.0 L276.0,776.0" fill="none" stroke="#000" stroke-width="1.3" stroke-dasharray="60 3 4 3" />
<path d="M324,768.2 L335.5,768.2 Q336.8,769.8 335.5,771.5 L324,771.5 Z" fill="#fff" stroke="#000" stroke-width="1.3" />
<path d="M324,775.6 L336,775.6 Q337.3,777.2 336,778.9 L324,778.9 Z" fill="#fff" stroke="#000" stroke-width="1.3" />
<path d="M300.7,770.5 L300.7,781 A11.8,6 0 0 0 324.3,781 L324.3,770.5 Z" fill="#fff" stroke="#000" stroke-width="1.3" />
<ellipse cx="312.5" cy="770.5" rx="11.8" ry="6.0" transform="rotate(0.0 312.5 770.5)" fill="#fff" stroke="#000" stroke-width="1.3" />
<path d="M315,784 L316,779 Q322,777 324.3,774 M316,786.5 L317,782.5 Q323,780 324.3,778 M315,787 L316,790" fill="none" stroke="#000" stroke-width="1.3" />
<path d="M268.2,815 L274.7,862.4 Q279,876 287.3,881.3 Q294,887 302,888.7 Q310,889 318.8,881.5 L458.8,800.1 Q466,790 456,778 Q452,775 447.6,775.5 L367.8,821.8 L303,859.5 L295.7,811.7 Z" fill="#fff" stroke="#000" stroke-width="1.3" />
<path d="M302,858.5 Q303,862 306,864" fill="none" stroke="#000" stroke-width="1.3" />
<path d="M415.0,797.7 L415.0,796.6 L415.1,795.6 L415.3,794.7 L415.5,793.8 L415.9,793.1 L416.3,792.4 L416.8,791.8 L417.3,791.2 L417.9,790.8 L423.4,787.6 L424.1,787.3 L424.8,787.1 L425.5,787.0 L426.3,787.0 L427.2,787.1 L428.1,787.3 L428.9,787.6 L429.9,788.0 L430.8,788.5 L431.7,789.1 L432.6,789.8 L433.5,790.6 L434.4,791.4 L435.2,792.4 L436.1,793.3 L436.8,794.4 L437.6,795.5 L438.3,796.6 L438.9,797.8 L439.5,799.0 L440.0,800.2 L440.4,801.4 L440.8,802.6 L441.1,803.8 L441.3,804.9 L441.5,806.1 L441.5,807.1 L441.5,808.2 L441.4,809.2 L441.2,810.1 L441.0,811.0 L440.6,811.7 L440.2,812.4 L439.7,813.0 L439.2,813.6 L438.6,814.0 L433.1,817.2 L432.4,817.5 L431.7,817.7 L431.0,817.8 L430.2,817.8 L429.3,817.7 L428.4,817.5 L427.6,817.2 L426.6,816.8 L425.7,816.3 L424.8,815.7 L423.9,815.0 L423.0,814.2 L422.1,813.4 L421.3,812.4 L420.4,811.5 L419.7,810.4 L418.9,809.3 L418.2,808.2 L417.6,807.0 L417.0,805.8 L416.5,804.6 L416.1,803.4 L415.7,802.2 L415.4,801.0 L415.2,799.9 L415.0,798.7 Z" fill="#fff" stroke="#000" stroke-width="1.3" />
<path d="M420.7,821.1 L432.7,814.2 L420.3,792.7 L408.3,799.6 Z" fill="#fff" stroke="none"/>
<path d="M417.9,790.8 A8.4,15.2 -30 0 1 433.1,817.2" fill="none" stroke="#000" stroke-width="1.3" />
<path d="M423.4,787.6 A8.4,15.2 -30 0 1 438.6,814.0" fill="none" stroke="#000" stroke-width="1.3" />
<path d="M338.3,840.9 L338.4,839.7 L338.5,838.6 L338.7,837.6 L339.0,836.7 L339.4,835.8 L339.9,835.1 L340.4,834.4 L341.1,833.8 L341.8,833.3 L363.8,820.6 L364.5,820.3 L365.3,820.0 L366.2,819.9 L367.1,819.9 L368.0,820.0 L369.0,820.2 L370.0,820.5 L371.0,820.9 L372.0,821.5 L373.0,822.1 L374.0,822.8 L375.0,823.7 L376.0,824.6 L376.9,825.6 L377.8,826.6 L378.7,827.8 L379.5,828.9 L380.2,830.2 L380.9,831.4 L381.5,832.7 L382.1,834.0 L382.6,835.3 L382.9,836.6 L383.2,837.9 L383.5,839.2 L383.6,840.5 L383.7,841.7 L383.6,842.8 L383.5,843.9 L383.3,844.9 L383.0,845.9 L382.6,846.7 L382.1,847.5 L381.6,848.2 L380.9,848.7 L380.2,849.2 L358.2,861.9 L357.5,862.3 L356.7,862.5 L355.8,862.7 L354.9,862.7 L354.0,862.6 L353.0,862.4 L352.0,862.1 L351.0,861.6 L350.0,861.1 L349.0,860.5 L348.0,859.7 L347.0,858.9 L346.0,858.0 L345.1,857.0 L344.2,855.9 L343.3,854.8 L342.5,853.6 L341.8,852.4 L341.1,851.1 L340.5,849.8 L339.9,848.5 L339.4,847.2 L339.1,845.9 L338.8,844.6 L338.5,843.3 L338.4,842.1 Z" fill="#fff" stroke="#000" stroke-width="1.3" />
<path d="M344.2,865.3 L357.2,857.8 L344.8,836.3 L331.8,843.8 Z" fill="#fff" stroke="none"/>
<path d="M341.8,833.3 A9.5,16.5 -30 0 1 358.2,861.9" fill="none" stroke="#000" stroke-width="1.3" />
<path d="M347.8,829.9 A9.5,16.5 -30 0 1 364.2,858.5" fill="none" stroke="#000" stroke-width="1.3" />
<path d="M352.8,827.0 A9.5,16.5 -30 0 1 369.2,855.6" fill="none" stroke="#000" stroke-width="1.3" />
<path d="M357.8,824.1 A9.5,16.5 -30 0 1 374.2,852.7" fill="none" stroke="#000" stroke-width="1.3" />
<ellipse cx="280.9" cy="809.7" rx="16.5" ry="6.3" transform="rotate(0.0 280.9 809.7)" fill="#fff" stroke="#000" stroke-width="1.3" />
<ellipse cx="280.3" cy="802.9" rx="13.7" ry="7.1" transform="rotate(0.0 280.3 802.9)" fill="#fff" stroke="#000" stroke-width="1.3" />
<path d="M266.6,803 L264.5,809.7 M294,803 L297.3,809.7" fill="none" stroke="#000" stroke-width="1.3" />
<path d="M308.4,805.6 L313.3,852.9 Q317,856 321,855.7 Q326,855 328.2,850.7 L324.9,802.3 Z" fill="#fff" stroke="#000" stroke-width="1.3" />
<ellipse cx="316.0" cy="803.6" rx="9.4" ry="4.2" transform="rotate(0.0 316.0 803.6)" fill="#fff" stroke="#000" stroke-width="1.3" />
<ellipse cx="315.8" cy="797.6" rx="8.5" ry="3.8" transform="rotate(0.0 315.8 797.6)" fill="#fff" stroke="#000" stroke-width="1.3" />
<path d="M307.3,797.6 L306.7,803.6 M324.3,797.6 L325.3,803.6" fill="none" stroke="#000" stroke-width="1.3" />
<path d="M276.0,776.0 L280.3,802.5" fill="none" stroke="#000" stroke-width="1.3" />
<path d="M363.6,847.7 Q372,848 378,858 Q382,866 380.4,870 Q378,874 372,873.6 Q364,871 358,863.8 Q356,860 357.3,859.6 Q362,857 362.2,852 Z" fill="#fff" stroke="#000" stroke-width="1.3" />
<ellipse cx="371.3" cy="866.0" rx="2.6" ry="3.0" transform="rotate(-20.0 371.3 866.0)" fill="#fff" stroke="#000" stroke-width="1.3" />
<path d="M371.3,865.6 L355.6,875.0 L387.1,894.0 L373.4,902.4" fill="none" stroke="#000" stroke-width="1.3" stroke-dasharray="16 3 4 3" />
<path d="M352.5,911.6 L352.5,911.4 L352.6,911.1 L352.6,910.9 L352.7,910.7 L352.8,910.5 L352.8,910.3 L353.0,910.1 L353.1,910.0 L353.2,909.9 L353.4,909.8 L371.9,899.0 L372.1,898.9 L372.3,898.9 L372.4,898.8 L372.6,898.8 L372.8,898.9 L373.0,898.9 L373.3,899.0 L373.5,899.1 L373.7,899.2 L373.9,899.3 L374.1,899.5 L374.3,899.6 L374.5,899.8 L374.7,900.0 L374.9,900.3 L375.1,900.5 L375.2,900.8 L375.4,901.0 L375.5,901.3 L375.6,901.5 L375.7,901.8 L375.8,902.1 L375.9,902.4 L375.9,902.6 L375.9,902.9 L376.0,903.2 L375.9,903.4 L375.9,903.7 L375.9,903.9 L375.8,904.1 L375.7,904.3 L375.6,904.5 L375.5,904.6 L375.4,904.8 L375.3,904.9 L375.1,905.0 L356.6,915.8 L356.4,915.9 L356.2,915.9 L356.0,915.9 L355.8,915.9 L355.6,915.9 L355.4,915.9 L355.2,915.8 L355.0,915.7 L354.8,915.6 L354.6,915.5 L354.4,915.3 L354.2,915.1 L354.0,914.9 L353.8,914.7 L353.6,914.5 L353.4,914.3 L353.3,914.0 L353.1,913.8 L353.0,913.5 L352.9,913.2 L352.8,913.0 L352.7,912.7 L352.6,912.4 L352.6,912.1 L352.5,911.9 Z" fill="#fff" stroke="#000" stroke-width="1.3" />
<path d="M357.2,907.6 Q360.2,909.8 360.4,913.6" fill="none" stroke="#000" stroke-width="1.1" />
<path d="M359.5,906.2 Q362.4,908.4 362.7,912.2" fill="none" stroke="#000" stroke-width="1.1" />
<path d="M361.7,904.9 Q364.7,907.1 364.9,910.9" fill="none" stroke="#000" stroke-width="1.1" />
<path d="M364.0,903.6 Q366.9,905.8 367.2,909.6" fill="none" stroke="#000" stroke-width="1.1" />
<path d="M366.2,902.3 Q369.2,904.5 369.4,908.3" fill="none" stroke="#000" stroke-width="1.1" />
<path d="M368.5,901.0 Q371.4,903.2 371.7,907.0" fill="none" stroke="#000" stroke-width="1.1" />
<path d="M370.7,899.7 Q373.7,901.9 373.9,905.7" fill="none" stroke="#000" stroke-width="1.1" />
<path d="M344.6,913.3 L344.6,912.8 L344.7,912.3 L344.8,911.8 L344.9,911.3 L345.1,910.9 L345.3,910.5 L345.5,910.2 L345.8,909.9 L346.1,909.6 L346.4,909.4 L351.6,906.4 L352.0,906.3 L352.3,906.2 L352.7,906.1 L353.2,906.1 L353.6,906.1 L354.0,906.2 L354.5,906.4 L354.9,906.6 L355.4,906.8 L355.8,907.1 L356.3,907.4 L356.7,907.8 L357.1,908.2 L357.5,908.6 L357.9,909.1 L358.3,909.6 L358.6,910.1 L358.9,910.7 L359.2,911.2 L359.5,911.8 L359.7,912.4 L359.8,913.0 L360.0,913.6 L360.1,914.1 L360.2,914.7 L360.2,915.3 L360.2,915.8 L360.1,916.3 L360.0,916.8 L359.9,917.2 L359.7,917.7 L359.5,918.0 L359.3,918.4 L359.0,918.7 L358.7,918.9 L358.4,919.1 L353.2,922.2 L352.8,922.3 L352.4,922.4 L352.0,922.5 L351.6,922.5 L351.2,922.4 L350.8,922.4 L350.3,922.2 L349.9,922.0 L349.4,921.8 L349.0,921.5 L348.5,921.2 L348.1,920.8 L347.7,920.4 L347.3,919.9 L346.9,919.5 L346.5,919.0 L346.2,918.4 L345.9,917.9 L345.6,917.3 L345.3,916.8 L345.1,916.2 L344.9,915.6 L344.8,915.0 L344.7,914.4 L344.6,913.9 Z" fill="#fff" stroke="#000" stroke-width="1.3" />
<ellipse cx="349.8" cy="915.8" rx="4.5" ry="7.2" transform="rotate(-28.0 349.8 915.8)" fill="#fff" stroke="#000" stroke-width="1.3" />
<ellipse cx="349.8" cy="915.8" rx="2.5" ry="4.0" transform="rotate(-28.0 349.8 915.8)" fill="none" stroke="#000" stroke-width="1.3" />
<path d="M402,581.5 L485,628 L479,640 L397,593.5 Q394,589 395,585 Q397,581 402,581.5 Z" fill="#fff" stroke="#000" stroke-width="1.3" />
<path d="M396,585 L396,592" fill="none" stroke="#000" stroke-width="3" stroke-opacity="0.45"/>
<ellipse cx="450.0" cy="612.0" rx="2.3" ry="1.6" transform="rotate(0.0 450.0 612.0)" fill="none" stroke="#000" stroke-width="1.3" />
<path d="M447.5,586.5 L447.5,602.0 A2.5,1.5 0 0 0 452.5,602.0 L452.5,586.5 A2.5,1.5 0 0 0 447.5,586.5 Z" fill="#fff" stroke="#000" stroke-width="1.3" />
<ellipse cx="450.0" cy="586.5" rx="2.5" ry="1.5" transform="rotate(0.0 450.0 586.5)" fill="#fff" stroke="#000" stroke-width="1.3" />
<path d="M504,617.5 Q478,628 476,650 Q477,668 495,674 L503,678 L516,668 L521,666 L520,653 L527,648 L526.5,630.5 L513,623 Z" fill="#fff" stroke="#000" stroke-width="0" />
<path d="M504,617.5 Q478,628 476,650 Q477,668 495,674" fill="none" stroke="#000" stroke-width="1.3" />
<path d="M505,619.5 Q480.5,629.5 478.5,650 Q479.5,666 496,672" fill="none" stroke="#000" stroke-width="1.3" />
<path d="M501,619 L513,623 Q520,626 526.5,630.5 L520,639 L510,641 L500,639 Q498,632 499,628 Z" fill="#fff" stroke="#000" stroke-width="1.3" />
<path d="M510,641 Q507,632 513,623" fill="none" stroke="#000" stroke-width="1.3" />
<path d="M489,630 L500,634 L504,653 L490,647 Z" fill="#fff" stroke="#000" stroke-width="1.6" />
<path d="M517,643 L526,645 L527,648.5 L518,647 Z" fill="#fff" stroke="#000" stroke-width="1.3" />
<path d="M479,650 L490,657 L503,660 L512,653 L510,662 L500,666 L481,664 Z" fill="#fff" stroke="#000" stroke-width="1.3" />
<path d="M510,654 L520,653 L521,666 L516,668 L510,662 Z" fill="#fff" stroke="#000" stroke-width="1.3" />
<path d="M481,665 L495,670 L511,666 L503,678 L495,674 Z" fill="#fff" stroke="#000" stroke-width="1.3" />
<path d="M504,653 Q508,650 512,653" fill="none" stroke="#000" stroke-width="1.3" />
<path d="M548,632.6 Q552,628 560,629 L570.4,633 L583.2,628 Q592,624 602,627 Q610,630 610.4,640 Q608,646 602,647 L599.2,647 Q612,655 612,672 L610.4,691.8 Q606,706 592,718 L566,745 L558,752 Q552,758 548,750 L536,760 L508,762 L508,730 L520,724 L520.8,711 Q516,706 517.6,695 L522,686 Q527,670 534,660 Q540,648 548,644 Z" fill="#fff" stroke="#000" stroke-width="1.3" />
<path d="M543.2,642.2 Q532,656 527.2,679 L524,690" fill="none" stroke="#000" stroke-width="1.3" />
<path d="M548,656.6 Q538,668 532,687" fill="none" stroke="#000" stroke-width="1.3" />
<path d="M570.4,647 Q550,660 546,690 Q546,712 560,727" fill="none" stroke="#000" stroke-width="1.3" />
<path d="M575,652 Q556,668 554,695 Q555,712 566,720" fill="none" stroke="#000" stroke-width="1.3" />
<path d="M574,652 Q590,646 599.2,647 M580,658 L589,675 M586,655 Q596,660 597,672" fill="none" stroke="#000" stroke-width="1.3" />
<path d="M569.6,632.6 Q577,629 584.8,629.4 M570.4,637.4 Q578,634 586.4,634.2" fill="none" stroke="#000" stroke-width="1.3" />
<path d="M546.0,638.2 L546.0,637.6 L546.1,637.0 L546.2,636.4 L546.4,635.8 L546.6,635.1 L546.9,634.5 L547.2,633.9 L547.5,633.4 L547.9,632.8 L548.3,632.3 L548.7,631.8 L549.1,631.3 L549.6,630.9 L550.1,630.5 L550.6,630.2 L551.1,629.9 L551.6,629.7 L552.2,629.5 L552.7,629.4 L553.2,629.3 L553.7,629.3 L554.2,629.4 L554.7,629.4 L555.1,629.6 L555.6,629.8 L567.6,637.1 L568.0,637.3 L568.4,637.6 L568.7,638.0 L569.0,638.4 L569.3,638.8 L569.5,639.3 L569.7,639.8 L569.8,640.3 L569.9,640.9 L570.0,641.5 L570.0,642.1 L570.0,642.7 L569.9,643.3 L569.8,643.9 L569.6,644.5 L569.4,645.2 L569.1,645.8 L568.8,646.4 L568.5,646.9 L568.1,647.5 L567.7,648.0 L567.3,648.5 L566.9,649.0 L566.4,649.4 L565.9,649.8 L565.4,650.1 L564.9,650.4 L564.4,650.6 L563.8,650.8 L563.3,650.9 L562.8,651.0 L562.3,651.0 L561.8,650.9 L561.3,650.9 L560.9,650.7 L560.4,650.5 L548.4,643.2 L548.0,643.0 L547.6,642.7 L547.3,642.3 L547.0,641.9 L546.7,641.5 L546.5,641.0 L546.3,640.5 L546.2,640.0 L546.1,639.4 L546.0,638.8 Z" fill="#fff" stroke="#000" stroke-width="1.3" />
<ellipse cx="564.0" cy="643.8" rx="5.5" ry="7.6" transform="rotate(28.0 564.0 643.8)" fill="#fff" stroke="#000" stroke-width="1.3" />
<ellipse cx="564.0" cy="643.8" rx="2.8" ry="3.9" transform="rotate(28.0 564.0 643.8)" fill="none" stroke="#000" stroke-width="1.3" />
<ellipse cx="564.0" cy="643.8" rx="1.4" ry="2.0" transform="rotate(28.0 564.0 643.8)" fill="none" stroke="#000" stroke-width="1.3" />
<path d="M586.5,633.7 L586.5,633.1 L586.6,632.5 L586.7,631.9 L586.9,631.3 L587.1,630.6 L587.4,630.0 L587.7,629.4 L588.0,628.9 L588.4,628.3 L588.8,627.8 L589.2,627.3 L589.6,626.8 L590.1,626.4 L590.6,626.0 L591.1,625.7 L591.6,625.4 L592.1,625.2 L592.7,625.0 L593.2,624.9 L593.7,624.8 L594.2,624.8 L594.7,624.9 L595.2,624.9 L595.6,625.1 L596.1,625.3 L596.5,625.5 L608.4,633.1 L608.8,633.4 L609.1,633.8 L609.4,634.2 L609.7,634.6 L609.9,635.1 L610.1,635.6 L610.2,636.1 L610.3,636.7 L610.4,637.3 L610.4,637.9 L610.4,638.5 L610.3,639.1 L610.2,639.7 L610.0,640.3 L609.8,641.0 L609.5,641.6 L609.2,642.2 L608.9,642.7 L608.5,643.3 L608.1,643.8 L607.7,644.3 L607.3,644.8 L606.8,645.2 L606.3,645.6 L605.8,645.9 L605.3,646.2 L604.8,646.4 L604.2,646.6 L603.7,646.7 L603.2,646.8 L602.7,646.8 L602.2,646.7 L601.7,646.7 L601.3,646.5 L600.8,646.3 L600.4,646.1 L588.5,638.5 L588.1,638.2 L587.8,637.8 L587.5,637.4 L587.2,637.0 L587.0,636.5 L586.8,636.0 L586.7,635.5 L586.6,634.9 L586.5,634.3 Z" fill="#fff" stroke="#000" stroke-width="1.3" />
<ellipse cx="604.4" cy="639.6" rx="5.5" ry="7.6" transform="rotate(28.0 604.4 639.6)" fill="#fff" stroke="#000" stroke-width="1.3" />
<ellipse cx="604.4" cy="639.6" rx="2.8" ry="3.9" transform="rotate(28.0 604.4 639.6)" fill="none" stroke="#000" stroke-width="1.3" />
<ellipse cx="604.4" cy="639.6" rx="1.4" ry="2.0" transform="rotate(28.0 604.4 639.6)" fill="none" stroke="#000" stroke-width="1.3" />
<path d="M517.0,698.2 L517.0,697.6 L517.1,697.0 L517.2,696.4 L517.4,695.8 L517.6,695.1 L517.9,694.5 L518.2,693.9 L518.5,693.4 L518.9,692.8 L519.3,692.3 L519.7,691.8 L520.1,691.3 L520.6,690.9 L521.1,690.5 L521.6,690.2 L522.1,689.9 L522.6,689.7 L523.2,689.5 L523.7,689.4 L524.2,689.3 L524.7,689.3 L525.2,689.4 L525.7,689.4 L526.1,689.6 L526.6,689.8 L527.0,690.0 L538.2,697.0 L538.6,697.3 L538.9,697.7 L539.2,698.1 L539.5,698.5 L539.7,699.0 L539.9,699.5 L540.0,700.0 L540.1,700.6 L540.2,701.2 L540.2,701.8 L540.2,702.4 L540.1,703.0 L540.0,703.6 L539.8,704.2 L539.6,704.9 L539.3,705.5 L539.0,706.1 L538.7,706.6 L538.3,707.2 L537.9,707.7 L537.5,708.2 L537.1,708.7 L536.6,709.1 L536.1,709.5 L535.6,709.8 L535.1,710.1 L534.6,710.3 L534.0,710.5 L533.5,710.6 L533.0,710.7 L532.5,710.7 L532.0,710.6 L531.5,710.6 L531.1,710.4 L530.6,710.2 L530.2,710.0 L519.0,703.0 L518.6,702.7 L518.3,702.3 L518.0,701.9 L517.7,701.5 L517.5,701.0 L517.3,700.5 L517.2,700.0 L517.1,699.4 L517.0,698.8 Z" fill="#fff" stroke="#000" stroke-width="1.3" />
<ellipse cx="534.2" cy="703.5" rx="5.5" ry="7.6" transform="rotate(28.0 534.2 703.5)" fill="#fff" stroke="#000" stroke-width="1.3" />
<ellipse cx="534.2" cy="703.5" rx="2.8" ry="3.9" transform="rotate(28.0 534.2 703.5)" fill="none" stroke="#000" stroke-width="1.3" />
<ellipse cx="534.2" cy="703.5" rx="1.4" ry="2.0" transform="rotate(28.0 534.2 703.5)" fill="none" stroke="#000" stroke-width="1.3" />
<path d="M556,646 L552,654 L562,652 M527,705 L524,712" fill="none" stroke="#000" stroke-width="1.3" />
<path d="M558.4,693.7 L558.5,692.1 L558.7,690.6 L559.0,689.1 L559.5,687.6 L560.0,686.1 L560.6,684.7 L561.3,683.4 L562.2,682.1 L563.0,680.9 L564.0,679.7 L565.1,678.7 L566.2,677.7 L567.3,676.9 L568.5,676.2 L569.7,675.6 L571.0,675.1 L572.3,674.8 L573.5,674.6 L574.8,674.5 L576.1,674.6 L577.3,674.8 L578.5,675.1 L579.7,675.5 L602.7,686.5 L603.8,687.1 L604.8,687.8 L605.8,688.6 L606.7,689.5 L607.5,690.5 L608.3,691.7 L608.9,692.9 L609.5,694.1 L609.9,695.5 L610.2,696.9 L610.5,698.3 L610.6,699.8 L610.6,701.3 L610.5,702.9 L610.3,704.4 L610.0,705.9 L609.5,707.4 L609.0,708.9 L608.4,710.3 L607.7,711.6 L606.8,712.9 L606.0,714.1 L605.0,715.3 L603.9,716.3 L602.8,717.3 L601.7,718.1 L600.5,718.8 L599.3,719.4 L598.0,719.9 L596.7,720.2 L595.5,720.4 L594.2,720.5 L592.9,720.4 L591.7,720.2 L590.5,719.9 L589.3,719.5 L566.3,708.5 L565.2,707.9 L564.2,707.2 L563.2,706.4 L562.3,705.5 L561.5,704.5 L560.7,703.3 L560.1,702.1 L559.5,700.9 L559.1,699.5 L558.8,698.1 L558.5,696.7 L558.4,695.2 Z" fill="#fff" stroke="#000" stroke-width="1.3" />
<ellipse cx="596.0" cy="703.0" rx="14.2" ry="17.8" transform="rotate(18.0 596.0 703.0)" fill="#fff" stroke="#000" stroke-width="1.3" />
<ellipse cx="596.0" cy="703.0" rx="12.5" ry="15.6" transform="rotate(18.0 596.0 703.0)" fill="none" stroke="#000" stroke-width="1.3" />
<path d="M552.8,748 Q558,746 560,752 Q558,758 552,757" fill="none" stroke="#000" stroke-width="1.3" />
<path d="M507.8,745.4 L507.9,743.9 L508.1,742.5 L508.4,741.1 L508.7,739.8 L509.2,738.5 L509.8,737.3 L510.5,736.2 L511.3,735.2 L512.1,734.3 L513.1,733.4 L514.1,732.7 L515.1,732.1 L545.9,715.1 L547.0,714.6 L548.2,714.3 L549.4,714.1 L550.6,714.0 L551.9,714.0 L553.1,714.2 L554.4,714.5 L555.6,714.9 L556.8,715.4 L558.0,716.1 L559.2,716.8 L560.3,717.7 L561.4,718.7 L562.3,719.8 L563.3,720.9 L564.1,722.2 L564.8,723.5 L565.5,724.8 L566.1,726.2 L566.5,727.7 L566.9,729.2 L567.2,730.6 L567.3,732.1 L567.4,733.6 L567.3,735.1 L567.1,736.5 L566.8,737.9 L566.5,739.2 L566.0,740.5 L565.4,741.7 L564.7,742.8 L563.9,743.8 L563.1,744.7 L562.1,745.6 L561.1,746.3 L560.1,746.9 L529.3,763.9 L528.2,764.4 L527.0,764.7 L525.8,764.9 L524.6,765.0 L523.3,765.0 L522.1,764.8 L520.8,764.5 L519.6,764.1 L518.4,763.6 L517.2,762.9 L516.0,762.2 L514.9,761.3 L513.8,760.3 L512.9,759.2 L511.9,758.1 L511.1,756.8 L510.4,755.5 L509.7,754.2 L509.1,752.8 L508.7,751.3 L508.3,749.8 L508.0,748.4 L507.9,746.9 Z" fill="#fff" stroke="#000" stroke-width="1.3" />
<ellipse cx="522.2" cy="748.0" rx="13.9" ry="17.4" transform="rotate(-20.0 522.2 748.0)" fill="#fff" stroke="#000" stroke-width="1.3" />
<ellipse cx="522.2" cy="748.0" rx="12.2" ry="15.2" transform="rotate(-20.0 522.2 748.0)" fill="none" stroke="#000" stroke-width="1.3" />
<path d="M522.0,728.6 A14,17.4 -20 0 1 534.0,761.4" fill="none" stroke="#000" stroke-width="1.3" />
<path d="M618.0,648.7 L618.0,648.4 L618.0,648.2 L618.1,647.9 L618.1,647.6 L618.2,647.3 L618.3,647.0 L618.4,646.8 L618.6,646.5 L618.7,646.2 L618.9,646.0 L619.1,645.7 L619.3,645.5 L619.5,645.3 L619.7,645.1 L619.9,644.9 L620.1,644.7 L620.3,644.6 L620.5,644.5 L620.7,644.4 L621.0,644.3 L621.2,644.3 L621.4,644.2 L621.6,644.3 L621.8,644.3 L622.0,644.3 L622.1,644.4 L638.6,654.4 L638.8,654.5 L639.0,654.6 L639.1,654.8 L639.2,654.9 L639.3,655.1 L639.4,655.3 L639.4,655.6 L639.5,655.8 L639.5,656.0 L639.5,656.3 L639.5,656.6 L639.5,656.8 L639.4,657.1 L639.4,657.4 L639.3,657.7 L639.2,658.0 L639.1,658.2 L638.9,658.5 L638.8,658.8 L638.6,659.0 L638.4,659.3 L638.2,659.5 L638.0,659.7 L637.8,659.9 L637.6,660.1 L637.4,660.3 L637.2,660.4 L637.0,660.5 L636.8,660.6 L636.5,660.7 L636.3,660.7 L636.1,660.8 L635.9,660.7 L635.7,660.7 L635.5,660.7 L635.4,660.6 L618.9,650.6 L618.7,650.5 L618.5,650.4 L618.4,650.2 L618.3,650.1 L618.2,649.9 L618.1,649.7 L618.1,649.4 L618.0,649.2 L618.0,649.0 Z" fill="#fff" stroke="#000" stroke-width="1.3" />
<path d="M621.6,651.9 Q624.5,649.9 624.2,645.9" fill="none" stroke="#000" stroke-width="1.3" />
<path d="M624.0,653.3 Q626.9,651.3 626.6,647.3" fill="none" stroke="#000" stroke-width="1.3" />
<path d="M626.4,654.7 Q629.3,652.7 629.0,648.7" fill="none" stroke="#000" stroke-width="1.3" />
<path d="M628.8,656.1 Q631.7,654.1 631.4,650.1" fill="none" stroke="#000" stroke-width="1.3" />
<path d="M631.2,657.5 Q634.1,655.5 633.8,651.5" fill="none" stroke="#000" stroke-width="1.3" />
<path d="M633.6,658.9 Q636.5,656.9 636.2,652.9" fill="none" stroke="#000" stroke-width="1.3" />
<path d="M628.7,658.8 L628.8,658.1 L628.8,657.5 L628.9,656.9 L629.1,656.2 L629.3,655.6 L629.5,654.9 L629.8,654.3 L630.1,653.7 L630.5,653.1 L630.8,652.5 L631.2,651.9 L631.7,651.4 L632.1,650.9 L632.6,650.5 L633.1,650.0 L633.6,649.7 L634.1,649.4 L634.6,649.1 L635.1,648.9 L635.6,648.7 L636.1,648.6 L636.5,648.6 L637.0,648.6 L637.4,648.6 L637.9,648.8 L638.3,648.9 L641.8,650.9 L642.1,651.2 L642.5,651.4 L642.8,651.8 L643.0,652.2 L643.3,652.6 L643.4,653.0 L643.6,653.5 L643.7,654.1 L643.8,654.7 L643.8,655.2 L643.7,655.9 L643.7,656.5 L643.6,657.1 L643.4,657.8 L643.2,658.4 L643.0,659.1 L642.7,659.7 L642.4,660.3 L642.0,660.9 L641.7,661.5 L641.3,662.1 L640.8,662.6 L640.4,663.1 L639.9,663.5 L639.4,664.0 L638.9,664.3 L638.4,664.6 L637.9,664.9 L637.4,665.1 L636.9,665.3 L636.4,665.4 L636.0,665.4 L635.5,665.4 L635.1,665.4 L634.6,665.2 L634.2,665.1 L630.7,663.1 L630.4,662.8 L630.0,662.6 L629.7,662.2 L629.5,661.8 L629.2,661.4 L629.1,661.0 L628.9,660.5 L628.8,659.9 L628.7,659.3 Z" fill="#fff" stroke="#000" stroke-width="1.3" />
<path d="M631.5,659.3 L631.5,658.8 L631.6,658.2 L631.7,657.6 L631.8,657.0 L632.0,656.4 L632.2,655.8 L632.4,655.3 L632.7,654.7 L633.0,654.2 L633.3,653.6 L633.7,653.1 L634.1,652.7 L634.5,652.2 L634.9,651.8 L635.4,651.5 L635.9,651.2 L636.3,650.9 L636.8,650.7 L637.3,650.5 L637.8,650.3 L638.2,650.3 L638.7,650.2 L639.1,650.3 L639.6,650.3 L640.0,650.5 L640.4,650.6 L640.7,650.9 L648.7,656.4 L649.1,656.6 L649.4,657.0 L649.7,657.3 L649.9,657.7 L650.1,658.1 L650.2,658.6 L650.4,659.1 L650.4,659.6 L650.5,660.2 L650.5,660.7 L650.4,661.3 L650.3,661.9 L650.2,662.5 L650.0,663.1 L649.8,663.7 L649.6,664.2 L649.3,664.8 L649.0,665.3 L648.7,665.9 L648.3,666.4 L647.9,666.8 L647.5,667.3 L647.1,667.7 L646.6,668.0 L646.1,668.3 L645.7,668.6 L645.2,668.8 L644.7,669.0 L644.2,669.2 L643.8,669.2 L643.3,669.3 L642.9,669.2 L642.4,669.2 L642.0,669.0 L641.6,668.9 L641.3,668.6 L633.3,663.1 L632.9,662.9 L632.6,662.5 L632.3,662.2 L632.1,661.8 L631.9,661.4 L631.8,660.9 L631.6,660.4 L631.6,659.9 Z" fill="#fff" stroke="#000" stroke-width="1.3" />
<ellipse cx="645.0" cy="662.5" rx="4.9" ry="7.2" transform="rotate(28.0 645.0 662.5)" fill="#fff" stroke="#000" stroke-width="1.3" />
<path d="M636,650.5 L643.5,654.5 M640.5,665 L634,661" fill="none" stroke="#000" stroke-width="1.3" />
<path d="M604.0,639.0 L620.0,649.4" fill="none" stroke="#000" stroke-width="1.3" />
<ellipse cx="622.4" cy="717.0" rx="14.2" ry="18.0" transform="rotate(12.0 622.4 717.0)" fill="none" stroke="#000" stroke-width="1.3" />
<ellipse cx="658.5" cy="738.5" rx="10.5" ry="13.5" transform="rotate(12.0 658.5 738.5)" fill="none" stroke="#000" stroke-width="1.3" />
<ellipse cx="472.6" cy="775.5" rx="11.5" ry="15.5" transform="rotate(12.0 472.6 775.5)" fill="none" stroke="#000" stroke-width="1.3" />
<ellipse cx="495.5" cy="762.5" rx="10.5" ry="13.5" transform="rotate(12.0 495.5 762.5)" fill="none" stroke="#000" stroke-width="1.3" />
<path d="M687.2,738.4 L711.2,752.4 L729.4,764.2 Q738,767 742,771.4 Q750,779 751,789.4 L747.4,820 Q743,838 734.8,848.8 Q722,860 706,866.8 Q694,874 680.8,879.4 L618.7,897.5 L607,898 L616,866.8 L652,858.7 L673.6,852.4 Q686,848 697,841.6 Q710,836 716.8,829 L720.4,793 Q716,788 706,784 L686.4,773.2 Q676,770 671.2,762 Q670,752 672,750 Q678,741 687.2,738.4 Z" fill="#fff" stroke="#000" stroke-width="1.3" />
<path d="M595.3,883.6 L595.3,882.2 L595.5,880.8 L595.7,879.4 L596.1,878.1 L596.4,876.7 L596.9,875.4 L597.4,874.2 L598.0,873.0 L598.7,871.9 L599.4,870.9 L600.2,869.9 L601.0,869.1 L601.8,868.3 L602.7,867.7 L603.6,867.1 L604.5,866.7 L605.5,866.4 L610.5,865.4 L611.4,865.2 L612.3,865.2 L613.3,865.3 L614.2,865.4 L615.0,865.8 L615.9,866.2 L616.7,866.7 L617.5,867.4 L618.2,868.1 L618.9,869.0 L619.5,870.0 L620.0,871.0 L620.5,872.1 L620.9,873.3 L621.2,874.6 L621.5,875.9 L621.6,877.2 L621.7,878.6 L621.7,880.0 L621.7,881.4 L621.5,882.8 L621.3,884.2 L620.9,885.5 L620.6,886.9 L620.1,888.2 L619.6,889.4 L619.0,890.6 L618.3,891.7 L617.6,892.7 L616.8,893.7 L616.0,894.5 L615.2,895.3 L614.3,895.9 L613.4,896.5 L612.5,896.9 L611.5,897.2 L606.5,898.2 L605.6,898.4 L604.7,898.4 L603.7,898.3 L602.8,898.2 L602.0,897.8 L601.1,897.4 L600.3,896.9 L599.5,896.2 L598.8,895.5 L598.1,894.6 L597.5,893.6 L597.0,892.6 L596.5,891.5 L596.1,890.3 L595.8,889.0 L595.5,887.7 L595.4,886.4 L595.3,885.0 Z" fill="#fff" stroke="#000" stroke-width="1.3" />
<ellipse cx="606.0" cy="882.3" rx="10.6" ry="16.2" transform="rotate(8.0 606.0 882.3)" fill="#fff" stroke="#000" stroke-width="1.3" />
<ellipse cx="607.8" cy="882.3" rx="8.6" ry="15.0" transform="rotate(8.0 607.8 882.3)" fill="none" stroke="#000" stroke-width="1.3" />
<path d="M688,741.2 Q678,746 680,754 Q680,766 684,773.2" fill="none" stroke="#000" stroke-width="1.3" />
<path d="M690.4,743.2 Q683,750 683.2,756 Q684,766 686.4,770" fill="none" stroke="#000" stroke-width="1.3" />
<path d="M686.4,744.4 Q690,742 698.4,743.6 Q703,745 703.2,746.8 Q704,749 702.4,751.6 L695.2,758.8 Q692,763 692,766.8 Q690,770 688,769.2 Q685,768 684.8,765.2 Q682,758 683.2,754 Q683,747 686.4,744.4 Z" fill="#fff" stroke="#000" stroke-width="1.3" />
<ellipse cx="689.6" cy="751.6" rx="2.2" ry="3.0" transform="rotate(15.0 689.6 751.6)" fill="none" stroke="#000" stroke-width="1.3" />
<path d="M711.2,757 Q712,752 716,751.6 L726,751.6 L731,752.5 L731,760.5 L726,760.4 L719.5,760 Q719,765 716,764.4 Q711,764 711.2,757 Z" fill="#fff" stroke="#000" stroke-width="1.3" />
<ellipse cx="729.2" cy="756.2" rx="3.4" ry="4.3" transform="rotate(12.0 729.2 756.2)" fill="#fff" stroke="#000" stroke-width="1.3" />
<path d="M716,751.6 Q722,752 719.5,760" fill="none" stroke="#000" stroke-width="1.3" />
<path d="M631,857 Q629,846 636,842.5 Q644,842 646.6,850 L647,857 L653.8,861.4 L653.8,878.5 L633,880 L632.2,861.4 Q631,860 631,857 Z" fill="#fff" stroke="#000" stroke-width="1.3" />
<ellipse cx="637.8" cy="851.8" rx="3.0" ry="4.0" transform="rotate(12.0 637.8 851.8)" fill="none" stroke="#000" stroke-width="1.3" />
<path d="M633,862 Q640,858 647,857.5" fill="none" stroke="#000" stroke-width="1.3" />
<path d="M617,897 Q620,904 626,904 Q631,902 631,894" fill="#fff" stroke="#000" stroke-width="1.3" />
<path d="M689.8,752.5 L760.0,793.0" fill="none" stroke="#000" stroke-width="1.3" stroke-dasharray="38 3 5 3" />
<path d="M616.0,839.8 L637.6,852.4 L711.4,894.7" fill="none" stroke="#000" stroke-width="1.3" stroke-dasharray="38 3 5 3" />
<ellipse cx="590.8" cy="825.5" rx="6.5" ry="9.0" transform="rotate(12.0 590.8 825.5)" fill="#fff" stroke="#000" stroke-width="1.3" />
<path d="M587.3,826.5 L587.3,826.0 L587.3,825.6 L587.4,825.1 L587.5,824.7 L587.6,824.3 L587.8,823.8 L588.0,823.4 L588.2,823.1 L588.5,822.7 L588.8,822.4 L589.0,822.1 L589.4,821.8 L589.7,821.5 L590.0,821.3 L590.4,821.2 L590.7,821.0 L591.1,820.9 L591.5,820.9 L591.9,820.8 L592.2,820.9 L592.6,820.9 L592.9,821.0 L593.3,821.1 L593.6,821.3 L600.1,824.8 L600.4,825.0 L600.7,825.3 L601.0,825.5 L601.2,825.8 L601.5,826.2 L601.7,826.5 L601.8,826.9 L602.0,827.3 L602.1,827.7 L602.2,828.1 L602.2,828.6 L602.2,829.0 L602.2,829.5 L602.2,829.9 L602.1,830.4 L602.0,830.8 L601.9,831.2 L601.7,831.7 L601.5,832.1 L601.3,832.4 L601.0,832.8 L600.7,833.1 L600.5,833.4 L600.1,833.7 L599.8,834.0 L599.5,834.2 L599.1,834.3 L598.8,834.5 L598.4,834.6 L598.0,834.6 L597.6,834.7 L597.3,834.6 L596.9,834.6 L596.6,834.5 L596.2,834.4 L595.9,834.2 L589.4,830.7 L589.1,830.5 L588.8,830.2 L588.5,830.0 L588.3,829.7 L588.0,829.3 L587.8,829.0 L587.7,828.6 L587.5,828.2 L587.4,827.8 L587.3,827.4 L587.3,826.9 Z" fill="#fff" stroke="#000" stroke-width="1.3" />
<ellipse cx="598.0" cy="829.5" rx="4.2" ry="5.2" transform="rotate(12.0 598.0 829.5)" fill="#fff" stroke="#000" stroke-width="1.3" />
<path d="M598.3,834.7 L598.4,833.7 L598.5,832.8 L598.7,831.9 L598.9,831.1 L599.2,830.2 L599.5,829.3 L599.9,828.5 L600.3,827.7 L600.7,827.0 L601.2,826.3 L601.8,825.7 L602.4,825.1 L603.0,824.6 L603.6,824.2 L604.2,823.8 L604.9,823.5 L605.5,823.3 L606.2,823.2 L606.9,823.1 L607.5,823.1 L608.2,823.2 L608.8,823.4 L609.4,823.7 L619.9,829.2 L620.5,829.5 L621.1,829.9 L621.6,830.4 L622.1,830.9 L622.5,831.5 L622.9,832.1 L623.2,832.8 L623.5,833.6 L623.8,834.4 L623.9,835.2 L624.1,836.1 L624.1,837.0 L624.2,837.8 L624.1,838.8 L624.0,839.7 L623.8,840.6 L623.6,841.4 L623.3,842.3 L623.0,843.2 L622.6,844.0 L622.2,844.8 L621.8,845.5 L621.3,846.2 L620.7,846.8 L620.1,847.4 L619.5,847.9 L618.9,848.3 L618.3,848.7 L617.6,849.0 L617.0,849.2 L616.3,849.3 L615.6,849.4 L615.0,849.4 L614.3,849.3 L613.7,849.1 L613.1,848.8 L602.6,843.3 L602.0,843.0 L601.4,842.6 L600.9,842.1 L600.4,841.6 L600.0,841.0 L599.6,840.4 L599.3,839.7 L599.0,838.9 L598.7,838.1 L598.6,837.3 L598.4,836.4 L598.4,835.5 Z" fill="#fff" stroke="#000" stroke-width="1.3" />
<ellipse cx="616.5" cy="839.0" rx="7.5" ry="10.5" transform="rotate(12.0 616.5 839.0)" fill="#fff" stroke="#000" stroke-width="1.3" />
<path d="M609.5,826.5 Q603,837.5 609.5,849" fill="none" stroke="#000" stroke-width="1.3" />
<path d="M612.5,828 Q606,838.5 612.5,850.5" fill="none" stroke="#000" stroke-width="1.3" />
<ellipse cx="616.5" cy="839.0" rx="3.2" ry="4.2" transform="rotate(12.0 616.5 839.0)" fill="none" stroke="#000" stroke-width="1.3" />
<ellipse cx="711.4" cy="895.2" rx="7.0" ry="8.6" transform="rotate(15.0 711.4 895.2)" fill="#fff" stroke="#000" stroke-width="1.3" />
<ellipse cx="711.4" cy="895.2" rx="2.4" ry="3.0" transform="rotate(15.0 711.4 895.2)" fill="none" stroke="#000" stroke-width="1.3" />
<path d="M724.6,903.1 L724.6,902.9 L724.7,902.6 L724.7,902.4 L724.8,902.1 L724.9,901.8 L725.0,901.6 L725.1,901.3 L725.2,901.0 L725.3,900.8 L725.5,900.5 L725.7,900.3 L725.8,900.1 L726.0,899.9 L726.2,899.7 L726.4,899.5 L726.6,899.4 L726.8,899.3 L727.0,899.2 L727.2,899.1 L727.4,899.0 L727.6,899.0 L727.8,898.9 L728.0,898.9 L728.2,899.0 L728.4,899.0 L728.5,899.1 L728.7,899.2 L743.3,909.7 L743.5,909.8 L743.6,909.9 L743.7,910.1 L743.8,910.3 L743.9,910.5 L743.9,910.7 L744.0,910.9 L744.0,911.1 L744.0,911.4 L744.0,911.6 L744.0,911.9 L743.9,912.1 L743.9,912.4 L743.8,912.7 L743.7,912.9 L743.6,913.2 L743.4,913.5 L743.3,913.7 L743.1,914.0 L743.0,914.2 L742.8,914.4 L742.6,914.6 L742.4,914.8 L742.2,915.0 L742.0,915.1 L741.8,915.2 L741.6,915.4 L741.4,915.4 L741.2,915.5 L741.0,915.5 L740.8,915.6 L740.6,915.6 L740.4,915.5 L740.2,915.5 L740.1,915.4 L739.9,915.3 L725.3,904.8 L725.2,904.7 L725.0,904.6 L724.9,904.4 L724.8,904.2 L724.8,904.0 L724.7,903.8 L724.7,903.6 L724.6,903.4 Z" fill="#fff" stroke="#000" stroke-width="1.3" />
<path d="M740.6,907.8 Q737.8,909.7 737.5,913.6" fill="none" stroke="#000" stroke-width="1.1" />
<path d="M738.8,906.4 Q735.9,908.4 735.7,912.3" fill="none" stroke="#000" stroke-width="1.1" />
<path d="M736.9,905.1 Q734.1,907.1 733.8,910.9" fill="none" stroke="#000" stroke-width="1.1" />
<path d="M735.1,903.8 Q732.2,905.8 732.0,909.6" fill="none" stroke="#000" stroke-width="1.1" />
<path d="M733.2,902.4 Q730.4,904.4 730.1,908.3" fill="none" stroke="#000" stroke-width="1.1" />
<path d="M731.4,901.1 Q728.5,903.1 728.3,906.9" fill="none" stroke="#000" stroke-width="1.1" />
<path d="M729.5,899.8 Q726.7,901.8 726.4,905.6" fill="none" stroke="#000" stroke-width="1.1" />
<path d="M736.4,915.0 L736.5,914.4 L736.5,913.9 L736.6,913.3 L736.8,912.7 L736.9,912.1 L737.2,911.5 L737.4,911.0 L737.7,910.4 L738.0,909.9 L738.3,909.3 L738.7,908.8 L739.1,908.4 L739.5,907.9 L739.9,907.5 L740.3,907.1 L740.8,906.8 L741.2,906.5 L741.7,906.3 L742.1,906.1 L742.6,905.9 L743.0,905.9 L743.5,905.8 L743.9,905.8 L744.3,905.9 L744.6,906.0 L745.0,906.1 L745.3,906.4 L750.2,909.9 L750.5,910.1 L750.8,910.4 L751.0,910.7 L751.2,911.1 L751.4,911.5 L751.5,912.0 L751.6,912.5 L751.7,913.0 L751.7,913.5 L751.7,914.1 L751.6,914.6 L751.5,915.2 L751.4,915.8 L751.2,916.4 L751.0,917.0 L750.7,917.5 L750.4,918.1 L750.1,918.6 L749.8,919.2 L749.4,919.7 L749.0,920.1 L748.6,920.6 L748.2,921.0 L747.8,921.4 L747.3,921.7 L746.9,922.0 L746.4,922.2 L746.0,922.4 L745.5,922.6 L745.1,922.6 L744.7,922.7 L744.3,922.7 L743.9,922.6 L743.5,922.5 L743.1,922.4 L742.8,922.1 L737.9,918.7 L737.6,918.4 L737.3,918.1 L737.1,917.8 L736.9,917.4 L736.7,917.0 L736.6,916.5 L736.5,916.0 L736.4,915.5 Z" fill="#fff" stroke="#000" stroke-width="1.3" />
<ellipse cx="746.5" cy="916.0" rx="4.5" ry="7.2" transform="rotate(28.0 746.5 916.0)" fill="#fff" stroke="#000" stroke-width="1.3" />
<ellipse cx="746.5" cy="916.0" rx="2.5" ry="4.0" transform="rotate(28.0 746.5 916.0)" fill="none" stroke="#000" stroke-width="1.3" />
<path d="M765.6,797.1 L765.6,796.9 L765.7,796.6 L765.7,796.4 L765.8,796.1 L765.9,795.8 L766.0,795.6 L766.1,795.3 L766.2,795.0 L766.3,794.8 L766.5,794.5 L766.7,794.3 L766.8,794.1 L767.0,793.9 L767.2,793.7 L767.4,793.5 L767.6,793.4 L767.8,793.3 L768.0,793.2 L768.2,793.1 L768.4,793.0 L768.6,793.0 L768.8,792.9 L769.0,792.9 L769.2,793.0 L769.4,793.0 L769.5,793.1 L785.3,802.1 L785.5,802.2 L785.6,802.3 L785.8,802.5 L785.9,802.6 L786.0,802.8 L786.0,803.0 L786.1,803.2 L786.1,803.4 L786.2,803.6 L786.2,803.9 L786.2,804.1 L786.1,804.4 L786.1,804.7 L786.0,804.9 L785.9,805.2 L785.8,805.5 L785.7,805.7 L785.6,806.0 L785.5,806.2 L785.3,806.5 L785.1,806.7 L785.0,806.9 L784.8,807.1 L784.6,807.3 L784.4,807.5 L784.2,807.6 L784.0,807.8 L783.8,807.9 L783.6,808.0 L783.4,808.0 L783.1,808.1 L783.0,808.1 L782.8,808.1 L782.6,808.1 L782.4,808.0 L782.2,807.9 L766.5,798.9 L766.3,798.8 L766.2,798.7 L766.0,798.6 L765.9,798.4 L765.8,798.2 L765.8,798.0 L765.7,797.8 L765.7,797.6 L765.6,797.4 Z" fill="#fff" stroke="#000" stroke-width="1.3" />
<path d="M782.6,800.5 Q779.6,802.6 779.5,806.4" fill="none" stroke="#000" stroke-width="1.1" />
<path d="M780.6,799.4 Q777.6,801.5 777.5,805.2" fill="none" stroke="#000" stroke-width="1.1" />
<path d="M778.6,798.2 Q775.6,800.4 775.5,804.1" fill="none" stroke="#000" stroke-width="1.1" />
<path d="M776.6,797.1 Q773.6,799.2 773.5,802.9" fill="none" stroke="#000" stroke-width="1.1" />
<path d="M774.6,796.0 Q771.7,798.1 771.5,801.8" fill="none" stroke="#000" stroke-width="1.1" />
<path d="M772.6,794.8 Q769.7,796.9 769.5,800.7" fill="none" stroke="#000" stroke-width="1.1" />
<path d="M770.6,793.7 Q767.7,795.8 767.5,799.5" fill="none" stroke="#000" stroke-width="1.1" />
<path d="M778.6,807.5 L778.6,807.0 L778.7,806.4 L778.8,805.8 L778.9,805.2 L779.1,804.6 L779.3,804.1 L779.6,803.5 L779.8,802.9 L780.2,802.4 L780.5,801.9 L780.9,801.4 L781.2,800.9 L781.6,800.4 L782.1,800.0 L782.5,799.7 L782.9,799.3 L783.4,799.0 L783.8,798.8 L784.3,798.6 L784.7,798.5 L785.2,798.4 L785.6,798.3 L786.0,798.3 L786.4,798.4 L786.8,798.5 L787.2,798.7 L792.4,801.6 L792.7,801.9 L793.0,802.1 L793.3,802.4 L793.5,802.7 L793.7,803.1 L793.9,803.5 L794.0,804.0 L794.1,804.5 L794.2,805.0 L794.2,805.5 L794.2,806.1 L794.1,806.6 L794.0,807.2 L793.9,807.8 L793.7,808.4 L793.5,809.0 L793.2,809.5 L792.9,810.1 L792.6,810.6 L792.3,811.2 L791.9,811.7 L791.5,812.1 L791.1,812.6 L790.7,813.0 L790.3,813.4 L789.8,813.7 L789.4,814.0 L788.9,814.2 L788.5,814.4 L788.0,814.6 L787.6,814.6 L787.2,814.7 L786.8,814.7 L786.4,814.6 L786.0,814.5 L785.6,814.4 L780.4,811.4 L780.1,811.2 L779.8,810.9 L779.5,810.6 L779.3,810.3 L779.1,809.9 L778.9,809.5 L778.8,809.0 L778.7,808.5 L778.6,808.0 Z" fill="#fff" stroke="#000" stroke-width="1.3" />
<ellipse cx="789.0" cy="808.0" rx="4.5" ry="7.2" transform="rotate(28.0 789.0 808.0)" fill="#fff" stroke="#000" stroke-width="1.3" />
<ellipse cx="789.0" cy="808.0" rx="2.5" ry="4.0" transform="rotate(28.0 789.0 808.0)" fill="none" stroke="#000" stroke-width="1.3" />
<ellipse cx="616.5" cy="916.0" rx="9.6" ry="6.4" transform="rotate(-25.0 616.5 916.0)" fill="#fff" stroke="#000" stroke-width="1.3" />
<ellipse cx="616.5" cy="916.0" rx="2.8" ry="1.9" transform="rotate(-25.0 616.5 916.0)" fill="none" stroke="#000" stroke-width="1.3" />
<path d="M620.0,905.0 L618.0,911.0" fill="none" stroke="#000" stroke-width="1.3" />
<path d="M603.2,925.0 L603.2,936.0 A3.8,2.2 0 0 0 610.8,936.0 L610.8,925.0 A3.8,2.2 0 0 0 603.2,925.0 Z" fill="#fff" stroke="#000" stroke-width="1.3" />
<ellipse cx="607.0" cy="925.0" rx="3.8" ry="2.2" transform="rotate(0.0 607.0 925.0)" fill="#fff" stroke="#000" stroke-width="1.3" />
<path d="M603.2,928 Q607,930 610.8,928" fill="none" stroke="#000" stroke-width="1.3" />
<path d="M603.2,931 Q607,933 610.8,931" fill="none" stroke="#000" stroke-width="1.3" />
<path d="M603.2,934 Q607,936 610.8,934" fill="none" stroke="#000" stroke-width="1.3" />
<path d="M597.5,939 L600,934 L609,933 L614,937 L614,946 L609,950 L600,950 L597,945 Z" fill="#fff" stroke="#000" stroke-width="1.3" />
<path d="M600,934 L603,939 L614,937 M603,939 L603,950 M597.5,939 L603,939" fill="none" stroke="#000" stroke-width="1.3" />
</svg></body></html>
